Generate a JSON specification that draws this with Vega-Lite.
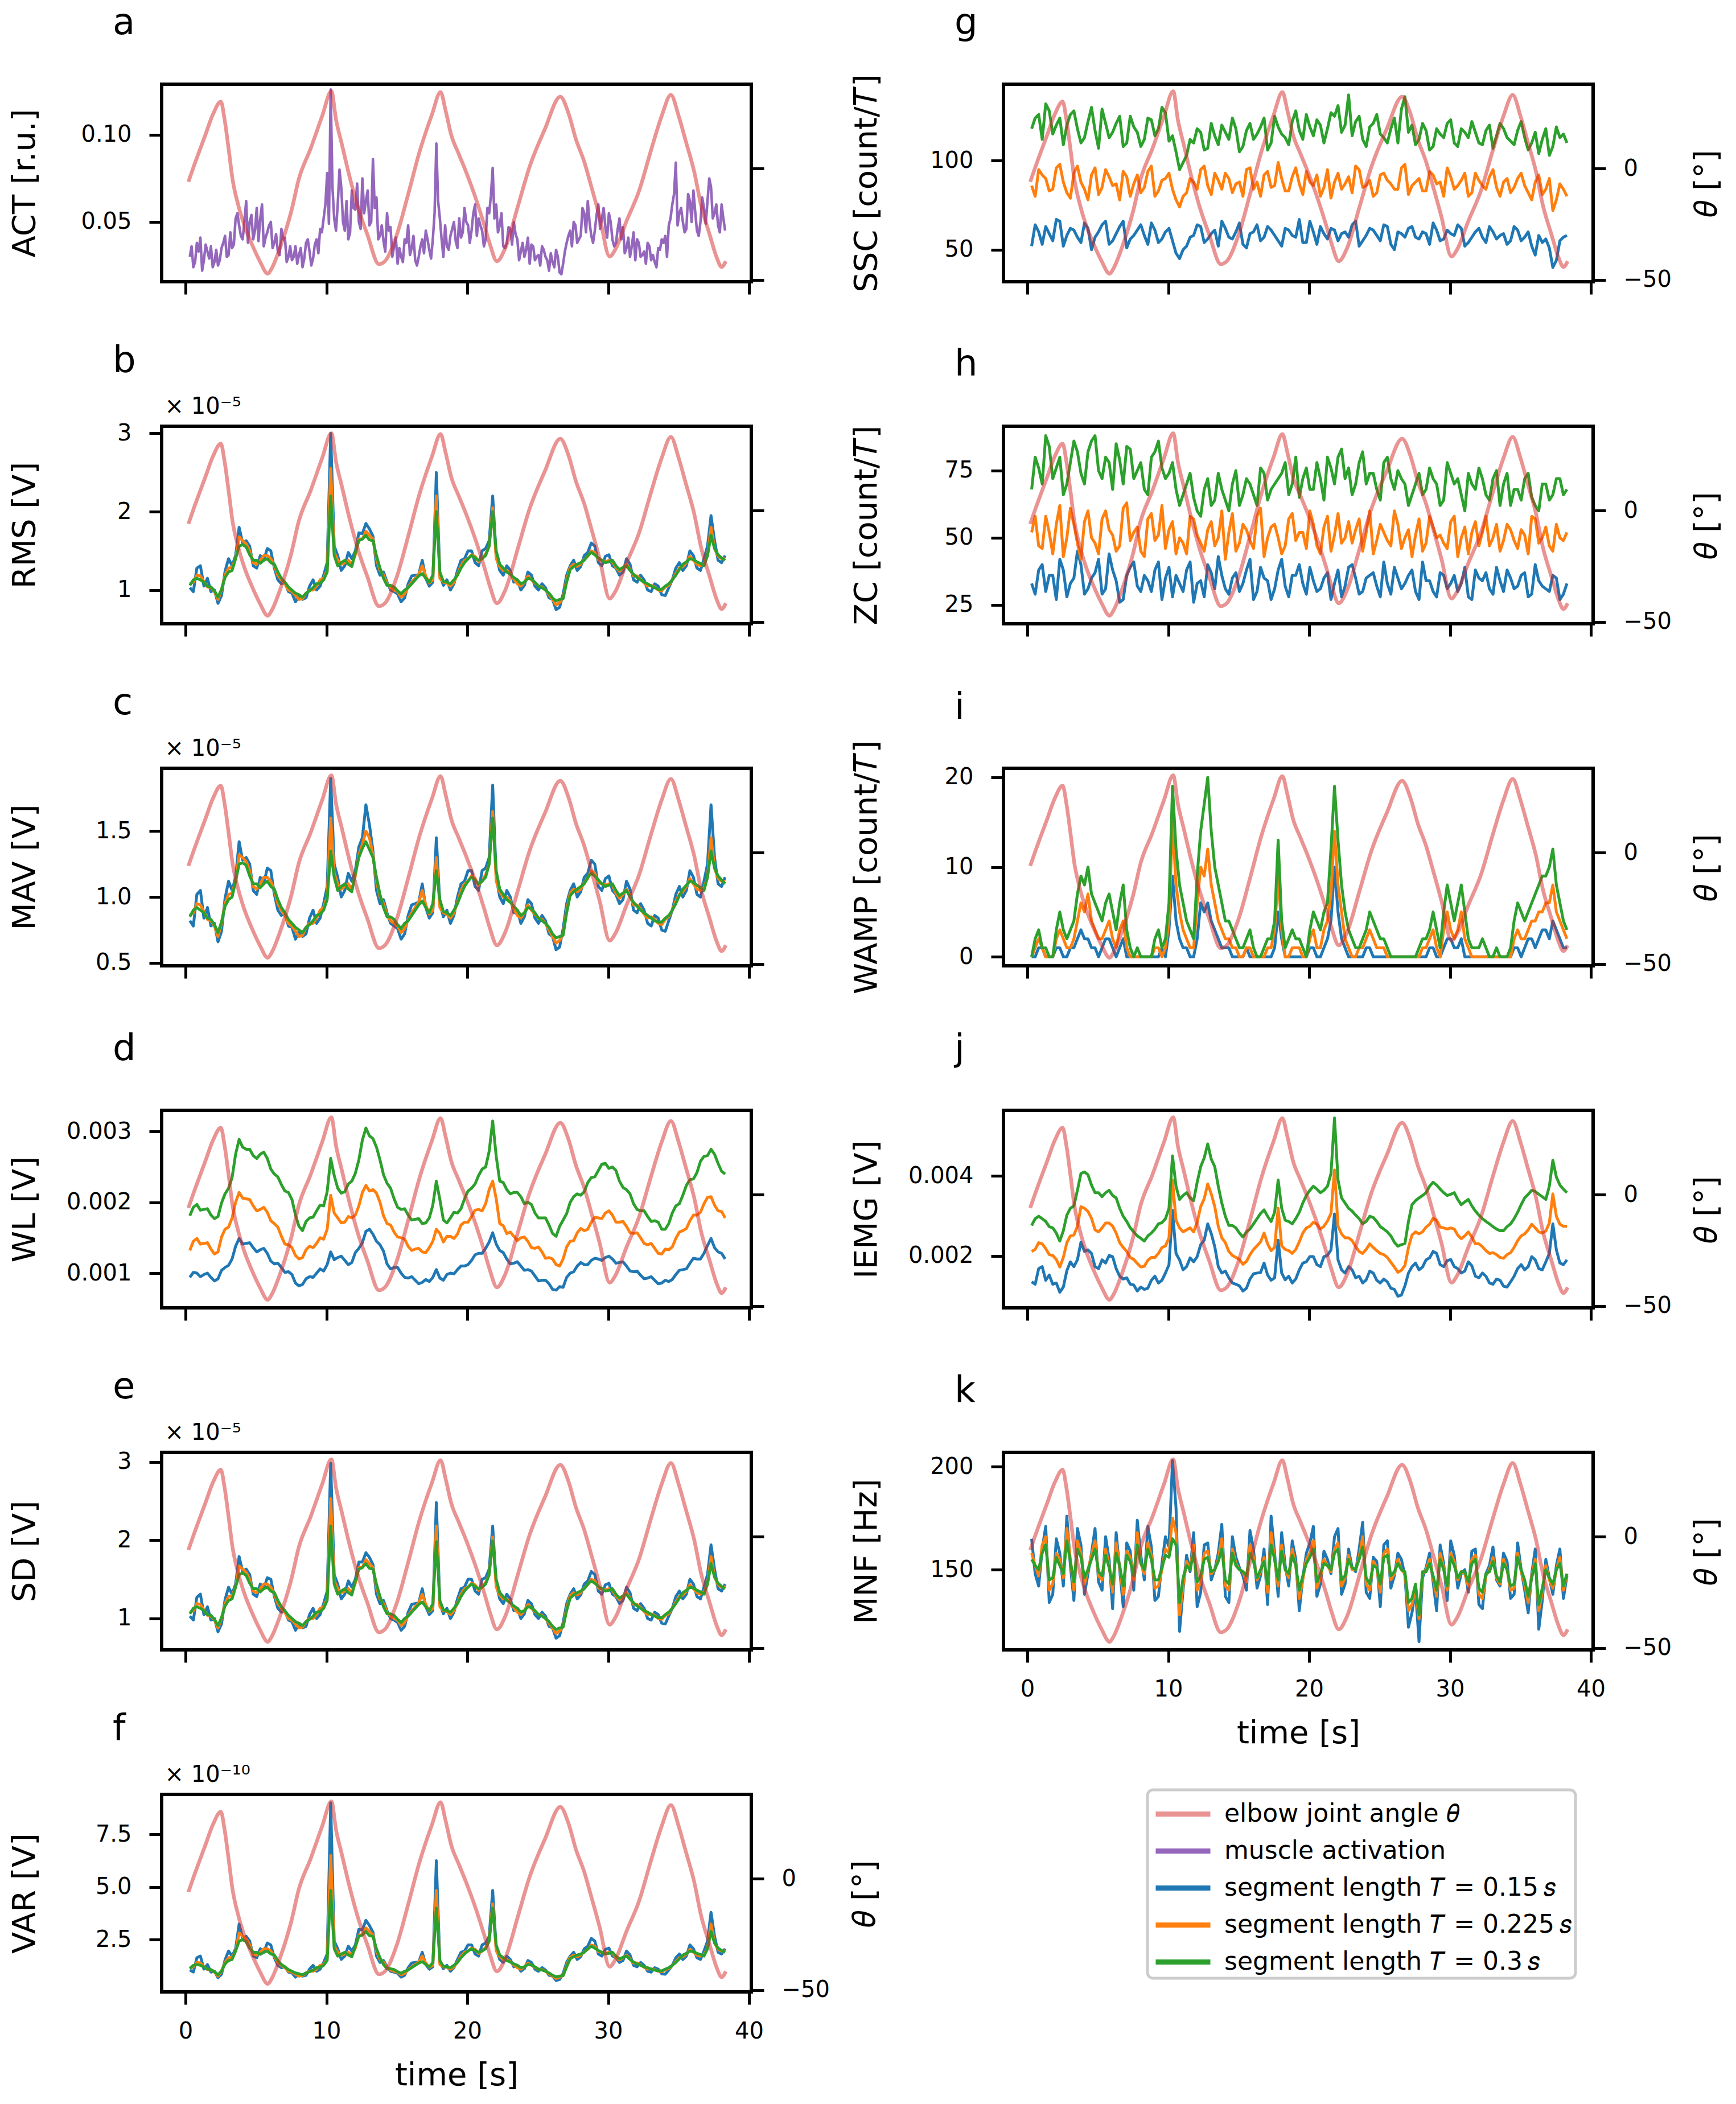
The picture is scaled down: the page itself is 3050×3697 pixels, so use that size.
{
  "$schema": "https://vega.github.io/schema/vega-lite/v6.json",
  "background": "white",
  "padding": {"left": 12, "top": 5, "right": 0, "bottom": 0},
  "datasets": {
    "angle": [
      {"t":0.2,"k":"angle","th":-6},{"t":0.55,"k":"angle","th":0.4},{"t":1.4,"k":"angle","th":15},{"t":1.95,"k":"angle","th":24.4},{"t":2.5,"k":"angle","th":30},{"t":2.77,"k":"angle","th":21.9},{"t":3.05,"k":"angle","th":9},{"t":3.33,"k":"angle","th":-4.7},{"t":3.75,"k":"angle","th":-16.7},{"t":4.16,"k":"angle","th":-25.3},{"t":4.7,"k":"angle","th":-33.9},{"t":5.27,"k":"angle","th":-41.6},{"t":5.83,"k":"angle","th":-47.2},{"t":6.1,"k":"angle","th":-45},{"t":6.66,"k":"angle","th":-36.4},{"t":7.5,"k":"angle","th":-19.3},{"t":8.04,"k":"angle","th":-4.7},{"t":8.88,"k":"angle","th":9},{"t":9.7,"k":"angle","th":23.6},{"t":10.35,"k":"angle","th":34.7},{"t":10.68,"k":"angle","th":21.9},{"t":11.1,"k":"angle","th":10.7},{"t":11.65,"k":"angle","th":-3.9},{"t":12.2,"k":"angle","th":-16.7},{"t":12.9,"k":"angle","th":-29.6},{"t":13.73,"k":"angle","th":-42.9},{"t":14.15,"k":"angle","th":-41.6},{"t":15,"k":"angle","th":-29.6},{"t":15.8,"k":"angle","th":-11.6},{"t":16.6,"k":"angle","th":7.3},{"t":17.5,"k":"angle","th":24.4},{"t":18.1,"k":"angle","th":34.3},{"t":18.45,"k":"angle","th":26.2},{"t":18.86,"k":"angle","th":15},{"t":19.4,"k":"angle","th":6.4},{"t":20,"k":"angle","th":-3},{"t":20.5,"k":"angle","th":-11.6},{"t":21.2,"k":"angle","th":-25.3},{"t":21.6,"k":"angle","th":-33.9},{"t":22.1,"k":"angle","th":-41.6},{"t":22.7,"k":"angle","th":-35.6},{"t":23.6,"k":"angle","th":-16.7},{"t":24.4,"k":"angle","th":0.4},{"t":25.5,"k":"angle","th":17.6},{"t":26.6,"k":"angle","th":32.2},{"t":27.2,"k":"angle","th":24.4},{"t":27.7,"k":"angle","th":13.3},{"t":28.3,"k":"angle","th":3},{"t":28.8,"k":"angle","th":-8.1},{"t":29.4,"k":"angle","th":-21.9},{"t":30.1,"k":"angle","th":-39.5},{"t":30.5,"k":"angle","th":-36.4},{"t":31.3,"k":"angle","th":-23.6},{"t":32.2,"k":"angle","th":-9.9},{"t":33,"k":"angle","th":7.3},{"t":33.8,"k":"angle","th":23.6},{"t":34.45,"k":"angle","th":33},{"t":35,"k":"angle","th":23.6},{"t":35.5,"k":"angle","th":12.4},{"t":36.1,"k":"angle","th":-1.3},{"t":36.6,"k":"angle","th":-16.7},{"t":37.2,"k":"angle","th":-29.6},{"t":37.7,"k":"angle","th":-39.9},{"t":38.05,"k":"angle","th":-44.2},{"t":38.35,"k":"angle","th":-41.6}
    ],
    "act": [
      {"t":0.3,"k":"act","act":0.030},{"t":0.8,"k":"act","act":0.038},{"t":1.3,"k":"act","act":0.028},{"t":1.8,"k":"act","act":0.036},{"t":2.3,"k":"act","act":0.025},{"t":2.8,"k":"act","act":0.042},{"t":3.3,"k":"act","act":0.035},{"t":3.8,"k":"act","act":0.048},{"t":4.3,"k":"act","act":0.062},{"t":4.8,"k":"act","act":0.040},{"t":5.3,"k":"act","act":0.052},{"t":5.8,"k":"act","act":0.044},{"t":6.3,"k":"act","act":0.038},{"t":6.8,"k":"act","act":0.046},{"t":7.3,"k":"act","act":0.030},{"t":7.8,"k":"act","act":0.036},{"t":8.3,"k":"act","act":0.024},{"t":8.8,"k":"act","act":0.033},{"t":9.3,"k":"act","act":0.040},{"t":9.8,"k":"act","act":0.052},{"t":10.3,"k":"act","act":0.126},{"t":10.8,"k":"act","act":0.060},{"t":11.3,"k":"act","act":0.045},{"t":11.8,"k":"act","act":0.068},{"t":12.3,"k":"act","act":0.050},{"t":12.8,"k":"act","act":0.062},{"t":13.3,"k":"act","act":0.086},{"t":13.8,"k":"act","act":0.042},{"t":14.3,"k":"act","act":0.055},{"t":14.8,"k":"act","act":0.036},{"t":15.3,"k":"act","act":0.030},{"t":15.8,"k":"act","act":0.048},{"t":16.3,"k":"act","act":0.028},{"t":16.8,"k":"act","act":0.040},{"t":17.3,"k":"act","act":0.034},{"t":17.8,"k":"act","act":0.095},{"t":18.3,"k":"act","act":0.030},{"t":18.8,"k":"act","act":0.042},{"t":19.3,"k":"act","act":0.035},{"t":19.8,"k":"act","act":0.058},{"t":20.3,"k":"act","act":0.045},{"t":20.8,"k":"act","act":0.052},{"t":21.3,"k":"act","act":0.040},{"t":21.8,"k":"act","act":0.081},{"t":22.3,"k":"act","act":0.048},{"t":22.8,"k":"act","act":0.038},{"t":23.3,"k":"act","act":0.050},{"t":23.8,"k":"act","act":0.033},{"t":24.3,"k":"act","act":0.041},{"t":24.8,"k":"act","act":0.028},{"t":25.3,"k":"act","act":0.036},{"t":25.8,"k":"act","act":0.022},{"t":26.3,"k":"act","act":0.034},{"t":26.8,"k":"act","act":0.026},{"t":27.3,"k":"act","act":0.045},{"t":27.8,"k":"act","act":0.038},{"t":28.3,"k":"act","act":0.055},{"t":28.8,"k":"act","act":0.042},{"t":29.3,"k":"act","act":0.060},{"t":29.8,"k":"act","act":0.047},{"t":30.3,"k":"act","act":0.040},{"t":30.8,"k":"act","act":0.052},{"t":31.3,"k":"act","act":0.035},{"t":31.8,"k":"act","act":0.044},{"t":32.3,"k":"act","act":0.030},{"t":32.8,"k":"act","act":0.038},{"t":33.3,"k":"act","act":0.027},{"t":33.8,"k":"act","act":0.040},{"t":34.3,"k":"act","act":0.048},{"t":34.8,"k":"act","act":0.084},{"t":35.3,"k":"act","act":0.050},{"t":35.8,"k":"act","act":0.062},{"t":36.3,"k":"act","act":0.045},{"t":36.8,"k":"act","act":0.058},{"t":37.3,"k":"act","act":0.070},{"t":37.8,"k":"act","act":0.048},{"t":38.3,"k":"act","act":0.045},
      {"t":0.55,"k":"act","act":0.024},{"t":1.05,"k":"act","act":0.041},{"t":1.55,"k":"act","act":0.033},{"t":2.05,"k":"act","act":0.027},{"t":2.55,"k":"act","act":0.035},{"t":3.05,"k":"act","act":0.031},{"t":3.55,"k":"act","act":0.052},{"t":4.05,"k":"act","act":0.040},{"t":4.55,"k":"act","act":0.050},{"t":5.05,"k":"act","act":0.058},{"t":5.55,"k":"act","act":0.036},{"t":6.05,"k":"act","act":0.050},{"t":6.55,"k":"act","act":0.033},{"t":7.05,"k":"act","act":0.041},{"t":7.55,"k":"act","act":0.028},{"t":8.05,"k":"act","act":0.031},{"t":8.55,"k":"act","act":0.038},{"t":9.05,"k":"act","act":0.029},{"t":9.55,"k":"act","act":0.046},{"t":10.05,"k":"act","act":0.078},{"t":10.55,"k":"act","act":0.052},{"t":11.05,"k":"act","act":0.070},{"t":11.55,"k":"act","act":0.040},{"t":12.05,"k":"act","act":0.057},{"t":12.55,"k":"act","act":0.075},{"t":13.05,"k":"act","act":0.048},{"t":13.55,"k":"act","act":0.064},{"t":14.05,"k":"act","act":0.039},{"t":14.55,"k":"act","act":0.047},{"t":15.05,"k":"act","act":0.026},{"t":15.55,"k":"act","act":0.040},{"t":16.05,"k":"act","act":0.035},{"t":16.55,"k":"act","act":0.030},{"t":17.05,"k":"act","act":0.045},{"t":17.55,"k":"act","act":0.040},{"t":18.05,"k":"act","act":0.052},{"t":18.55,"k":"act","act":0.036},{"t":19.05,"k":"act","act":0.050},{"t":19.55,"k":"act","act":0.041},{"t":20.05,"k":"act","act":0.048},{"t":20.55,"k":"act","act":0.060},{"t":21.05,"k":"act","act":0.045},{"t":21.55,"k":"act","act":0.055},{"t":22.05,"k":"act","act":0.060},{"t":22.55,"k":"act","act":0.036},{"t":23.05,"k":"act","act":0.046},{"t":23.55,"k":"act","act":0.040},{"t":24.05,"k":"act","act":0.030},{"t":24.55,"k":"act","act":0.037},{"t":25.05,"k":"act","act":0.031},{"t":25.55,"k":"act","act":0.030},{"t":26.05,"k":"act","act":0.027},{"t":26.55,"k":"act","act":0.021},{"t":27.05,"k":"act","act":0.038},{"t":27.55,"k":"act","act":0.050},{"t":28.05,"k":"act","act":0.042},{"t":28.55,"k":"act","act":0.062},{"t":29.05,"k":"act","act":0.045},{"t":29.55,"k":"act","act":0.052},{"t":30.05,"k":"act","act":0.055},{"t":30.55,"k":"act","act":0.038},{"t":31.05,"k":"act","act":0.047},{"t":31.55,"k":"act","act":0.030},{"t":32.05,"k":"act","act":0.040},{"t":32.55,"k":"act","act":0.033},{"t":33.05,"k":"act","act":0.028},{"t":33.55,"k":"act","act":0.035},{"t":34.05,"k":"act","act":0.042},{"t":34.55,"k":"act","act":0.060},{"t":35.05,"k":"act","act":0.055},{"t":35.55,"k":"act","act":0.046},{"t":36.05,"k":"act","act":0.068},{"t":36.55,"k":"act","act":0.050},{"t":37.05,"k":"act","act":0.062},{"t":37.55,"k":"act","act":0.055},{"t":38.05,"k":"act","act":0.060},
      {"t":0.425,"k":"act","act":0.036},{"t":0.675,"k":"act","act":0.027},{"t":0.925,"k":"act","act":0.033},{"t":1.175,"k":"act","act":0.022},{"t":1.425,"k":"act","act":0.037},{"t":1.675,"k":"act","act":0.029},{"t":1.925,"k":"act","act":0.024},{"t":2.175,"k":"act","act":0.034},{"t":2.425,"k":"act","act":0.028},{"t":2.675,"k":"act","act":0.038},{"t":2.925,"k":"act","act":0.030},{"t":3.175,"k":"act","act":0.044},{"t":3.425,"k":"act","act":0.037},{"t":3.675,"k":"act","act":0.055},{"t":3.925,"k":"act","act":0.042},{"t":4.175,"k":"act","act":0.050},{"t":4.425,"k":"act","act":0.038},{"t":4.675,"k":"act","act":0.054},{"t":4.925,"k":"act","act":0.045},{"t":5.175,"k":"act","act":0.039},{"t":5.425,"k":"act","act":0.060},{"t":5.675,"k":"act","act":0.041},{"t":5.925,"k":"act","act":0.048},{"t":6.175,"k":"act","act":0.035},{"t":6.425,"k":"act","act":0.043},{"t":6.675,"k":"act","act":0.031},{"t":6.925,"k":"act","act":0.040},{"t":7.175,"k":"act","act":0.027},{"t":7.425,"k":"act","act":0.036},{"t":7.675,"k":"act","act":0.030},{"t":7.925,"k":"act","act":0.026},{"t":8.175,"k":"act","act":0.035},{"t":8.425,"k":"act","act":0.029},{"t":8.675,"k":"act","act":0.040},{"t":8.925,"k":"act","act":0.025},{"t":9.175,"k":"act","act":0.037},{"t":9.425,"k":"act","act":0.032},{"t":9.675,"k":"act","act":0.044},{"t":9.925,"k":"act","act":0.060},{"t":10.175,"k":"act","act":0.049},{"t":10.425,"k":"act","act":0.070},{"t":10.675,"k":"act","act":0.045},{"t":10.925,"k":"act","act":0.080},{"t":11.175,"k":"act","act":0.050},{"t":11.425,"k":"act","act":0.062},{"t":11.675,"k":"act","act":0.044},{"t":11.925,"k":"act","act":0.058},{"t":12.175,"k":"act","act":0.072},{"t":12.425,"k":"act","act":0.046},{"t":12.675,"k":"act","act":0.055},{"t":12.925,"k":"act","act":0.068},{"t":13.175,"k":"act","act":0.050},{"t":13.425,"k":"act","act":0.058},{"t":13.675,"k":"act","act":0.040},{"t":13.925,"k":"act","act":0.048},{"t":14.175,"k":"act","act":0.033},{"t":14.425,"k":"act","act":0.045},{"t":14.675,"k":"act","act":0.030},{"t":14.925,"k":"act","act":0.041},{"t":15.175,"k":"act","act":0.035},{"t":15.425,"k":"act","act":0.027},{"t":15.675,"k":"act","act":0.038},{"t":15.925,"k":"act","act":0.031},{"t":16.175,"k":"act","act":0.042},{"t":16.425,"k":"act","act":0.025},{"t":16.675,"k":"act","act":0.036},{"t":16.925,"k":"act","act":0.032},{"t":17.175,"k":"act","act":0.040},{"t":17.425,"k":"act","act":0.029},{"t":17.675,"k":"act","act":0.055},{"t":17.925,"k":"act","act":0.062},{"t":18.175,"k":"act","act":0.040},{"t":18.425,"k":"act","act":0.048},{"t":18.675,"k":"act","act":0.034},{"t":18.925,"k":"act","act":0.046},{"t":19.175,"k":"act","act":0.039},{"t":19.425,"k":"act","act":0.052},{"t":19.675,"k":"act","act":0.044},{"t":19.925,"k":"act","act":0.050},{"t":20.175,"k":"act","act":0.038},{"t":20.425,"k":"act","act":0.055},{"t":20.675,"k":"act","act":0.042},{"t":20.925,"k":"act","act":0.048},{"t":21.175,"k":"act","act":0.036},{"t":21.425,"k":"act","act":0.058},{"t":21.675,"k":"act","act":0.065},{"t":21.925,"k":"act","act":0.052},{"t":22.175,"k":"act","act":0.044},{"t":22.425,"k":"act","act":0.055},{"t":22.675,"k":"act","act":0.035},{"t":22.925,"k":"act","act":0.047},{"t":23.175,"k":"act","act":0.037},{"t":23.425,"k":"act","act":0.043},{"t":23.675,"k":"act","act":0.028},{"t":23.925,"k":"act","act":0.038},{"t":24.175,"k":"act","act":0.034},{"t":24.425,"k":"act","act":0.026},{"t":24.675,"k":"act","act":0.036},{"t":24.925,"k":"act","act":0.030},{"t":25.175,"k":"act","act":0.025},{"t":25.425,"k":"act","act":0.034},{"t":25.675,"k":"act","act":0.028},{"t":25.925,"k":"act","act":0.032},{"t":26.175,"k":"act","act":0.024},{"t":26.425,"k":"act","act":0.030},{"t":26.675,"k":"act","act":0.020},{"t":26.925,"k":"act","act":0.033},{"t":27.175,"k":"act","act":0.042},{"t":27.425,"k":"act","act":0.036},{"t":27.675,"k":"act","act":0.048},{"t":27.925,"k":"act","act":0.040},{"t":28.175,"k":"act","act":0.058},{"t":28.425,"k":"act","act":0.044},{"t":28.675,"k":"act","act":0.050},{"t":28.925,"k":"act","act":0.038},{"t":29.175,"k":"act","act":0.054},{"t":29.425,"k":"act","act":0.046},{"t":29.675,"k":"act","act":0.058},{"t":29.925,"k":"act","act":0.041},{"t":30.175,"k":"act","act":0.050},{"t":30.425,"k":"act","act":0.036},{"t":30.675,"k":"act","act":0.046},{"t":30.925,"k":"act","act":0.040},{"t":31.175,"k":"act","act":0.032},{"t":31.425,"k":"act","act":0.041},{"t":31.675,"k":"act","act":0.036},{"t":31.925,"k":"act","act":0.028},{"t":32.175,"k":"act","act":0.038},{"t":32.425,"k":"act","act":0.031},{"t":32.675,"k":"act","act":0.026},{"t":32.925,"k":"act","act":0.036},{"t":33.175,"k":"act","act":0.031},{"t":33.425,"k":"act","act":0.024},{"t":33.675,"k":"act","act":0.034},{"t":33.925,"k":"act","act":0.038},{"t":34.175,"k":"act","act":0.030},{"t":34.425,"k":"act","act":0.052},{"t":34.675,"k":"act","act":0.066},{"t":34.925,"k":"act","act":0.048},{"t":35.175,"k":"act","act":0.058},{"t":35.425,"k":"act","act":0.044},{"t":35.675,"k":"act","act":0.066},{"t":35.925,"k":"act","act":0.050},{"t":36.175,"k":"act","act":0.056},{"t":36.425,"k":"act","act":0.042},{"t":36.675,"k":"act","act":0.064},{"t":36.925,"k":"act","act":0.049},{"t":37.175,"k":"act","act":0.075},{"t":37.425,"k":"act","act":0.052},{"t":37.675,"k":"act","act":0.060},{"t":37.925,"k":"act","act":0.044},{"t":38.175,"k":"act","act":0.052}
    ],
    "emg": [
      {"t":0.3,"k":"0.15","mav":0.82,"rms":1.03,"sd":1.03,"var":1.06,"wl":0.00094,"iemg":0.00135,"ssc":52,"zc":33,"wamp":0,"mnf":165},
      {"t":0.8,"k":"0.15","mav":1.02,"rms":1.28,"sd":1.27,"var":1.64,"wl":0.001,"iemg":0.00168,"ssc":60,"zc":38,"wamp":1,"mnf":142},
      {"t":1.3,"k":"0.15","mav":0.84,"rms":1.05,"sd":1.05,"var":1.1,"wl":0.00098,"iemg":0.00139,"ssc":63,"zc":30,"wamp":0,"mnf":171},
      {"t":1.8,"k":"0.15","mav":0.78,"rms":0.98,"sd":0.98,"var":0.96,"wl":0.00094,"iemg":0.00129,"ssc":55,"zc":36,"wamp":0,"mnf":138},
      {"t":2.3,"k":"0.15","mav":0.66,"rms":0.83,"sd":0.83,"var":0.69,"wl":0.00092,"iemg":0.00109,"ssc":66,"zc":42,"wamp":1,"mnf":158},
      {"t":2.8,"k":"0.15","mav":0.99,"rms":1.24,"sd":1.24,"var":1.54,"wl":0.00108,"iemg":0.00163,"ssc":58,"zc":28,"wamp":0,"mnf":176},
      {"t":3.3,"k":"0.15","mav":1.05,"rms":1.31,"sd":1.31,"var":1.72,"wl":0.0012,"iemg":0.00173,"ssc":61,"zc":35,"wamp":1,"mnf":135},
      {"t":3.8,"k":"0.15","mav":1.42,"rms":1.8,"sd":1.79,"var":3.24,"wl":0.00149,"iemg":0.00234,"ssc":54,"zc":40,"wamp":3,"mnf":162},
      {"t":4.3,"k":"0.15","mav":1.3,"rms":1.63,"sd":1.63,"var":2.66,"wl":0.00142,"iemg":0.00215,"ssc":62,"zc":31,"wamp":2,"mnf":148},
      {"t":4.8,"k":"0.15","mav":1.05,"rms":1.31,"sd":1.31,"var":1.72,"wl":0.00136,"iemg":0.00173,"ssc":57,"zc":37,"wamp":1,"mnf":170},
      {"t":5.3,"k":"0.15","mav":1.15,"rms":1.44,"sd":1.44,"var":2.07,"wl":0.00133,"iemg":0.0019,"ssc":64,"zc":29,"wamp":1,"mnf":140},
      {"t":5.8,"k":"0.15","mav":1.22,"rms":1.53,"sd":1.52,"var":2.34,"wl":0.00128,"iemg":0.00201,"ssc":53,"zc":44,"wamp":2,"mnf":155},
      {"t":6.3,"k":"0.15","mav":1.02,"rms":1.28,"sd":1.28,"var":1.64,"wl":0.00113,"iemg":0.00168,"ssc":59,"zc":34,"wamp":0,"mnf":168},
      {"t":6.8,"k":"0.15","mav":0.86,"rms":1.08,"sd":1.08,"var":1.17,"wl":0.00108,"iemg":0.00142,"ssc":66,"zc":27,"wamp":2,"mnf":132},
      {"t":7.3,"k":"0.15","mav":0.78,"rms":0.98,"sd":0.98,"var":0.96,"wl":0.00102,"iemg":0.00129,"ssc":56,"zc":39,"wamp":0,"mnf":159},
      {"t":7.8,"k":"0.15","mav":0.68,"rms":0.85,"sd":0.85,"var":0.72,"wl":0.00086,"iemg":0.00112,"ssc":61,"zc":32,"wamp":0,"mnf":174},
      {"t":8.3,"k":"0.15","mav":0.7,"rms":0.88,"sd":0.88,"var":0.77,"wl":0.00084,"iemg":0.00116,"ssc":58,"zc":36,"wamp":0,"mnf":145},
      {"t":8.8,"k":"0.15","mav":0.84,"rms":1.05,"sd":1.05,"var":1.1,"wl":0.00095,"iemg":0.00139,"ssc":65,"zc":30,"wamp":0,"mnf":161},
      {"t":9.3,"k":"0.15","mav":0.8,"rms":1.0,"sd":1.0,"var":1.0,"wl":0.001,"iemg":0.00132,"ssc":54,"zc":41,"wamp":0,"mnf":137},
      {"t":9.8,"k":"0.15","mav":0.95,"rms":1.19,"sd":1.19,"var":1.42,"wl":0.00103,"iemg":0.00157,"ssc":60,"zc":35,"wamp":0,"mnf":166},
      {"t":10.3,"k":"0.15","mav":1.9,"rms":3.0,"sd":2.98,"var":9.0,"wl":0.0013,"iemg":0.00314,"ssc":55,"zc":28,"wamp":9,"mnf":203},
      {"t":10.8,"k":"0.15","mav":1.15,"rms":1.44,"sd":1.44,"var":2.07,"wl":0.00122,"iemg":0.0019,"ssc":45,"zc":33,"wamp":2,"mnf":120},
      {"t":11.3,"k":"0.15","mav":1.05,"rms":1.31,"sd":1.31,"var":1.72,"wl":0.00118,"iemg":0.00173,"ssc":52,"zc":38,"wamp":1,"mnf":157},
      {"t":11.8,"k":"0.15","mav":1.12,"rms":1.4,"sd":1.4,"var":1.96,"wl":0.00115,"iemg":0.00185,"ssc":58,"zc":26,"wamp":0,"mnf":168},
      {"t":12.3,"k":"0.15","mav":1.38,"rms":1.73,"sd":1.72,"var":2.99,"wl":0.00135,"iemg":0.00228,"ssc":63,"zc":34,"wamp":6,"mnf":139},
      {"t":12.8,"k":"0.15","mav":1.7,"rms":1.85,"sd":1.84,"var":3.42,"wl":0.00159,"iemg":0.0028,"ssc":56,"zc":40,"wamp":6,"mnf":163},
      {"t":13.3,"k":"0.15","mav":1.35,"rms":1.69,"sd":1.69,"var":2.86,"wl":0.00155,"iemg":0.00223,"ssc":61,"zc":31,"wamp":3,"mnf":150},
      {"t":13.8,"k":"0.15","mav":0.95,"rms":1.19,"sd":1.19,"var":1.42,"wl":0.0014,"iemg":0.00157,"ssc":66,"zc":36,"wamp":1,"mnf":172},
      {"t":14.3,"k":"0.15","mav":0.88,"rms":1.1,"sd":1.1,"var":1.21,"wl":0.00113,"iemg":0.00145,"ssc":57,"zc":29,"wamp":1,"mnf":134},
      {"t":14.8,"k":"0.15","mav":0.78,"rms":0.98,"sd":0.98,"var":0.96,"wl":0.00108,"iemg":0.00129,"ssc":60,"zc":37,"wamp":0,"mnf":156},
      {"t":15.3,"k":"0.15","mav":0.68,"rms":0.85,"sd":0.85,"var":0.72,"wl":0.001,"iemg":0.00112,"ssc":53,"zc":33,"wamp":0,"mnf":147},
      {"t":15.8,"k":"0.15","mav":0.86,"rms":1.08,"sd":1.08,"var":1.17,"wl":0.00093,"iemg":0.00142,"ssc":59,"zc":42,"wamp":0,"mnf":169},
      {"t":16.3,"k":"0.15","mav":0.95,"rms":1.19,"sd":1.19,"var":1.42,"wl":0.0009,"iemg":0.00157,"ssc":64,"zc":30,"wamp":0,"mnf":141},
      {"t":16.8,"k":"0.15","mav":1.1,"rms":1.38,"sd":1.38,"var":1.9,"wl":0.00087,"iemg":0.00182,"ssc":57,"zc":35,"wamp":0,"mnf":160},
      {"t":17.3,"k":"0.15","mav":0.84,"rms":1.05,"sd":1.05,"var":1.1,"wl":0.00088,"iemg":0.00139,"ssc":61,"zc":27,"wamp":0,"mnf":176},
      {"t":17.8,"k":"0.15","mav":1.45,"rms":2.5,"sd":2.48,"var":6.25,"wl":0.00105,"iemg":0.00239,"ssc":55,"zc":38,"wamp":5,"mnf":137},
      {"t":18.3,"k":"0.15","mav":0.85,"rms":1.06,"sd":1.06,"var":1.12,"wl":0.0009,"iemg":0.0014,"ssc":62,"zc":32,"wamp":0,"mnf":152},
      {"t":18.8,"k":"0.15","mav":0.8,"rms":1.0,"sd":1.0,"var":1.0,"wl":0.001,"iemg":0.00132,"ssc":58,"zc":36,"wamp":0,"mnf":164},
      {"t":19.3,"k":"0.15","mav":1.0,"rms":1.25,"sd":1.25,"var":1.56,"wl":0.00105,"iemg":0.00165,"ssc":67,"zc":40,"wamp":0,"mnf":130},
      {"t":19.8,"k":"0.15","mav":1.12,"rms":1.4,"sd":1.4,"var":1.96,"wl":0.0011,"iemg":0.00185,"ssc":54,"zc":29,"wamp":0,"mnf":158},
      {"t":20.3,"k":"0.15","mav":1.2,"rms":1.5,"sd":1.5,"var":2.25,"wl":0.00118,"iemg":0.00198,"ssc":60,"zc":34,"wamp":1,"mnf":171},
      {"t":20.8,"k":"0.15","mav":1.05,"rms":1.31,"sd":1.31,"var":1.72,"wl":0.00128,"iemg":0.00173,"ssc":63,"zc":31,"wamp":0,"mnf":143},
      {"t":21.3,"k":"0.15","mav":1.22,"rms":1.53,"sd":1.52,"var":2.34,"wl":0.00135,"iemg":0.00201,"ssc":56,"zc":37,"wamp":2,"mnf":155},
      {"t":21.8,"k":"0.15","mav":1.85,"rms":2.2,"sd":2.18,"var":4.84,"wl":0.00157,"iemg":0.00305,"ssc":61,"zc":33,"wamp":10,"mnf":166},
      {"t":22.3,"k":"0.15","mav":1.0,"rms":1.25,"sd":1.25,"var":1.56,"wl":0.00132,"iemg":0.00165,"ssc":59,"zc":28,"wamp":2,"mnf":138},
      {"t":22.8,"k":"0.15","mav":1.05,"rms":1.31,"sd":1.31,"var":1.72,"wl":0.0012,"iemg":0.00173,"ssc":57,"zc":39,"wamp":0,"mnf":160},
      {"t":23.3,"k":"0.15","mav":0.88,"rms":1.1,"sd":1.1,"var":1.21,"wl":0.00114,"iemg":0.00145,"ssc":66,"zc":35,"wamp":0,"mnf":149},
      {"t":23.8,"k":"0.15","mav":0.8,"rms":1.0,"sd":1.0,"var":1.0,"wl":0.0011,"iemg":0.00132,"ssc":55,"zc":30,"wamp":0,"mnf":173},
      {"t":24.3,"k":"0.15","mav":0.98,"rms":1.23,"sd":1.23,"var":1.51,"wl":0.00105,"iemg":0.00162,"ssc":62,"zc":36,"wamp":1,"mnf":136},
      {"t":24.8,"k":"0.15","mav":0.84,"rms":1.05,"sd":1.05,"var":1.1,"wl":0.00096,"iemg":0.00139,"ssc":58,"zc":32,"wamp":0,"mnf":154},
      {"t":25.3,"k":"0.15","mav":0.86,"rms":1.08,"sd":1.08,"var":1.17,"wl":0.0009,"iemg":0.00142,"ssc":64,"zc":41,"wamp":0,"mnf":162},
      {"t":25.8,"k":"0.15","mav":0.72,"rms":0.9,"sd":0.9,"var":0.81,"wl":0.00085,"iemg":0.00119,"ssc":53,"zc":29,"wamp":0,"mnf":141},
      {"t":26.3,"k":"0.15","mav":0.6,"rms":0.75,"sd":0.75,"var":0.56,"wl":0.00076,"iemg":0.00099,"ssc":60,"zc":35,"wamp":0,"mnf":158},
      {"t":26.8,"k":"0.15","mav":0.76,"rms":0.95,"sd":0.95,"var":0.9,"wl":0.0008,"iemg":0.00125,"ssc":57,"zc":33,"wamp":0,"mnf":147},
      {"t":27.3,"k":"0.15","mav":1.05,"rms":1.31,"sd":1.31,"var":1.72,"wl":0.001,"iemg":0.00173,"ssc":63,"zc":38,"wamp":0,"mnf":129},
      {"t":27.8,"k":"0.15","mav":1.0,"rms":1.25,"sd":1.25,"var":1.56,"wl":0.0011,"iemg":0.00165,"ssc":56,"zc":27,"wamp":0,"mnf":115},
      {"t":28.3,"k":"0.15","mav":1.15,"rms":1.44,"sd":1.44,"var":2.07,"wl":0.00112,"iemg":0.0019,"ssc":59,"zc":34,"wamp":0,"mnf":151},
      {"t":28.8,"k":"0.15","mav":1.28,"rms":1.6,"sd":1.6,"var":2.56,"wl":0.00118,"iemg":0.00211,"ssc":65,"zc":30,"wamp":1,"mnf":144},
      {"t":29.3,"k":"0.15","mav":1.08,"rms":1.35,"sd":1.35,"var":1.82,"wl":0.0012,"iemg":0.00178,"ssc":55,"zc":37,"wamp":0,"mnf":162},
      {"t":29.8,"k":"0.15","mav":1.14,"rms":1.43,"sd":1.43,"var":2.04,"wl":0.00122,"iemg":0.00188,"ssc":61,"zc":31,"wamp":2,"mnf":135},
      {"t":30.3,"k":"0.15","mav":1.05,"rms":1.31,"sd":1.31,"var":1.72,"wl":0.0012,"iemg":0.00173,"ssc":58,"zc":36,"wamp":1,"mnf":157},
      {"t":30.8,"k":"0.15","mav":0.95,"rms":1.19,"sd":1.19,"var":1.42,"wl":0.00115,"iemg":0.00157,"ssc":62,"zc":33,"wamp":2,"mnf":148},
      {"t":31.3,"k":"0.15","mav":1.12,"rms":1.4,"sd":1.4,"var":1.96,"wl":0.0011,"iemg":0.00185,"ssc":54,"zc":28,"wamp":0,"mnf":139},
      {"t":31.8,"k":"0.15","mav":0.9,"rms":1.13,"sd":1.13,"var":1.28,"wl":0.00102,"iemg":0.00149,"ssc":60,"zc":38,"wamp":0,"mnf":160},
      {"t":32.3,"k":"0.15","mav":0.95,"rms":1.19,"sd":1.19,"var":1.42,"wl":0.00097,"iemg":0.00157,"ssc":57,"zc":34,"wamp":0,"mnf":131},
      {"t":32.8,"k":"0.15","mav":0.8,"rms":1.0,"sd":1.0,"var":1.0,"wl":0.00093,"iemg":0.00132,"ssc":63,"zc":31,"wamp":0,"mnf":152},
      {"t":33.3,"k":"0.15","mav":0.86,"rms":1.08,"sd":1.08,"var":1.17,"wl":0.0009,"iemg":0.00142,"ssc":56,"zc":39,"wamp":0,"mnf":145},
      {"t":33.8,"k":"0.15","mav":0.75,"rms":0.94,"sd":0.94,"var":0.88,"wl":0.00086,"iemg":0.00124,"ssc":59,"zc":30,"wamp":0,"mnf":158},
      {"t":34.3,"k":"0.15","mav":0.82,"rms":1.03,"sd":1.03,"var":1.06,"wl":0.00088,"iemg":0.00135,"ssc":55,"zc":35,"wamp":0,"mnf":136},
      {"t":34.8,"k":"0.15","mav":1.02,"rms":1.28,"sd":1.28,"var":1.64,"wl":0.00098,"iemg":0.00168,"ssc":61,"zc":32,"wamp":1,"mnf":163},
      {"t":35.3,"k":"0.15","mav":1.0,"rms":1.25,"sd":1.25,"var":1.56,"wl":0.00105,"iemg":0.00165,"ssc":57,"zc":37,"wamp":1,"mnf":140},
      {"t":35.8,"k":"0.15","mav":1.2,"rms":1.5,"sd":1.5,"var":2.25,"wl":0.00114,"iemg":0.00198,"ssc":52,"zc":29,"wamp":2,"mnf":148},
      {"t":36.3,"k":"0.15","mav":1.02,"rms":1.28,"sd":1.28,"var":1.64,"wl":0.0012,"iemg":0.00168,"ssc":58,"zc":34,"wamp":2,"mnf":121},
      {"t":36.8,"k":"0.15","mav":1.12,"rms":1.4,"sd":1.4,"var":1.96,"wl":0.00128,"iemg":0.00185,"ssc":56,"zc":31,"wamp":3,"mnf":155},
      {"t":37.3,"k":"0.15","mav":1.7,"rms":1.95,"sd":1.94,"var":3.8,"wl":0.00149,"iemg":0.0028,"ssc":40,"zc":36,"wamp":4,"mnf":138},
      {"t":37.8,"k":"0.15","mav":1.1,"rms":1.38,"sd":1.38,"var":1.9,"wl":0.0013,"iemg":0.00182,"ssc":55,"zc":27,"wamp":2,"mnf":160},
      {"t":38.3,"k":"0.15","mav":1.15,"rms":1.44,"sd":1.44,"var":2.07,"wl":0.0012,"iemg":0.0019,"ssc":58,"zc":33,"wamp":1,"mnf":147},

      {"t":0.3,"k":"0.225","mav":0.86,"rms":1.08,"sd":1.08,"var":1.17,"wl":0.00132,"iemg":0.00211,"ssc":86,"zc":52,"wamp":0,"mnf":158},
      {"t":0.8,"k":"0.225","mav":0.95,"rms":1.19,"sd":1.19,"var":1.42,"wl":0.00149,"iemg":0.00233,"ssc":95,"zc":47,"wamp":2,"mnf":147},
      {"t":1.3,"k":"0.225","mav":0.89,"rms":1.11,"sd":1.11,"var":1.23,"wl":0.00142,"iemg":0.00218,"ssc":90,"zc":58,"wamp":0,"mnf":166},
      {"t":1.8,"k":"0.225","mav":0.82,"rms":1.03,"sd":1.03,"var":1.06,"wl":0.00134,"iemg":0.00201,"ssc":84,"zc":44,"wamp":0,"mnf":143},
      {"t":2.3,"k":"0.225","mav":0.7,"rms":0.88,"sd":0.88,"var":0.77,"wl":0.0013,"iemg":0.00172,"ssc":98,"zc":62,"wamp":3,"mnf":155},
      {"t":2.8,"k":"0.225","mav":0.95,"rms":1.19,"sd":1.19,"var":1.42,"wl":0.00162,"iemg":0.00233,"ssc":82,"zc":50,"wamp":1,"mnf":170},
      {"t":3.3,"k":"0.225","mav":1.03,"rms":1.29,"sd":1.29,"var":1.66,"wl":0.00178,"iemg":0.00252,"ssc":93,"zc":55,"wamp":2,"mnf":140},
      {"t":3.8,"k":"0.225","mav":1.32,"rms":1.68,"sd":1.67,"var":2.82,"wl":0.00214,"iemg":0.00323,"ssc":88,"zc":42,"wamp":6,"mnf":158},
      {"t":4.3,"k":"0.225","mav":1.27,"rms":1.59,"sd":1.59,"var":2.53,"wl":0.00205,"iemg":0.00311,"ssc":78,"zc":60,"wamp":7,"mnf":150},
      {"t":4.8,"k":"0.225","mav":1.08,"rms":1.35,"sd":1.35,"var":1.82,"wl":0.00195,"iemg":0.00265,"ssc":96,"zc":48,"wamp":3,"mnf":164},
      {"t":5.3,"k":"0.225","mav":1.1,"rms":1.38,"sd":1.38,"var":1.9,"wl":0.0019,"iemg":0.0027,"ssc":85,"zc":57,"wamp":2,"mnf":145},
      {"t":5.8,"k":"0.225","mav":1.15,"rms":1.44,"sd":1.44,"var":2.07,"wl":0.00186,"iemg":0.00282,"ssc":91,"zc":53,"wamp":4,"mnf":152},
      {"t":6.3,"k":"0.225","mav":1.05,"rms":1.31,"sd":1.31,"var":1.72,"wl":0.0017,"iemg":0.00257,"ssc":87,"zc":45,"wamp":1,"mnf":163},
      {"t":6.8,"k":"0.225","mav":0.9,"rms":1.13,"sd":1.13,"var":1.28,"wl":0.00152,"iemg":0.00221,"ssc":94,"zc":61,"wamp":4,"mnf":138},
      {"t":7.3,"k":"0.225","mav":0.8,"rms":1.0,"sd":1.0,"var":1.0,"wl":0.0014,"iemg":0.00196,"ssc":80,"zc":49,"wamp":0,"mnf":156},
      {"t":7.8,"k":"0.225","mav":0.74,"rms":0.93,"sd":0.93,"var":0.86,"wl":0.00125,"iemg":0.00181,"ssc":92,"zc":54,"wamp":0,"mnf":168},
      {"t":8.3,"k":"0.225","mav":0.71,"rms":0.89,"sd":0.89,"var":0.79,"wl":0.00122,"iemg":0.00174,"ssc":85,"zc":43,"wamp":0,"mnf":148},
      {"t":8.8,"k":"0.225","mav":0.8,"rms":1.0,"sd":1.0,"var":1.0,"wl":0.00138,"iemg":0.00196,"ssc":97,"zc":59,"wamp":0,"mnf":157},
      {"t":9.3,"k":"0.225","mav":0.84,"rms":1.05,"sd":1.05,"var":1.1,"wl":0.00142,"iemg":0.00206,"ssc":83,"zc":51,"wamp":1,"mnf":142},
      {"t":9.8,"k":"0.225","mav":0.92,"rms":1.15,"sd":1.15,"var":1.32,"wl":0.00148,"iemg":0.00225,"ssc":90,"zc":46,"wamp":1,"mnf":160},
      {"t":10.3,"k":"0.225","mav":1.6,"rms":2.55,"sd":2.53,"var":6.5,"wl":0.0021,"iemg":0.0039,"ssc":84,"zc":56,"wamp":15,"mnf":175},
      {"t":10.8,"k":"0.225","mav":1.1,"rms":1.38,"sd":1.38,"var":1.9,"wl":0.00178,"iemg":0.0027,"ssc":74,"zc":50,"wamp":5,"mnf":128},
      {"t":11.3,"k":"0.225","mav":1.08,"rms":1.35,"sd":1.35,"var":1.82,"wl":0.00172,"iemg":0.00265,"ssc":82,"zc":44,"wamp":2,"mnf":154},
      {"t":11.8,"k":"0.225","mav":1.06,"rms":1.33,"sd":1.33,"var":1.77,"wl":0.00178,"iemg":0.0026,"ssc":88,"zc":57,"wamp":1,"mnf":162},
      {"t":12.3,"k":"0.225","mav":1.32,"rms":1.65,"sd":1.65,"var":2.72,"wl":0.00195,"iemg":0.00323,"ssc":95,"zc":48,"wamp":10,"mnf":144},
      {"t":12.8,"k":"0.225","mav":1.5,"rms":1.75,"sd":1.75,"var":3.06,"wl":0.00224,"iemg":0.0038,"ssc":86,"zc":53,"wamp":12,"mnf":159},
      {"t":13.3,"k":"0.225","mav":1.32,"rms":1.65,"sd":1.65,"var":2.72,"wl":0.00218,"iemg":0.00323,"ssc":93,"zc":47,"wamp":6,"mnf":150},
      {"t":13.8,"k":"0.225","mav":1.0,"rms":1.25,"sd":1.25,"var":1.56,"wl":0.002,"iemg":0.00245,"ssc":84,"zc":60,"wamp":3,"mnf":165},
      {"t":14.3,"k":"0.225","mav":0.86,"rms":1.08,"sd":1.08,"var":1.17,"wl":0.0017,"iemg":0.00211,"ssc":90,"zc":52,"wamp":2,"mnf":140},
      {"t":14.8,"k":"0.225","mav":0.8,"rms":1.0,"sd":1.0,"var":1.0,"wl":0.00158,"iemg":0.00196,"ssc":87,"zc":45,"wamp":1,"mnf":153},
      {"t":15.3,"k":"0.225","mav":0.73,"rms":0.91,"sd":0.91,"var":0.83,"wl":0.0015,"iemg":0.00179,"ssc":80,"zc":55,"wamp":0,"mnf":149},
      {"t":15.8,"k":"0.225","mav":0.83,"rms":1.04,"sd":1.04,"var":1.08,"wl":0.00138,"iemg":0.00203,"ssc":96,"zc":49,"wamp":1,"mnf":162},
      {"t":16.3,"k":"0.225","mav":0.92,"rms":1.15,"sd":1.15,"var":1.32,"wl":0.00134,"iemg":0.00225,"ssc":88,"zc":58,"wamp":0,"mnf":145},
      {"t":16.8,"k":"0.225","mav":1.05,"rms":1.31,"sd":1.31,"var":1.72,"wl":0.0013,"iemg":0.00257,"ssc":92,"zc":43,"wamp":0,"mnf":156},
      {"t":17.3,"k":"0.225","mav":0.87,"rms":1.09,"sd":1.09,"var":1.19,"wl":0.00136,"iemg":0.00213,"ssc":85,"zc":54,"wamp":1,"mnf":168},
      {"t":17.8,"k":"0.225","mav":1.3,"rms":2.2,"sd":2.18,"var":4.84,"wl":0.00162,"iemg":0.00319,"ssc":99,"zc":50,"wamp":9,"mnf":142},
      {"t":18.3,"k":"0.225","mav":0.88,"rms":1.1,"sd":1.1,"var":1.21,"wl":0.00144,"iemg":0.00216,"ssc":83,"zc":47,"wamp":0,"mnf":150},
      {"t":18.8,"k":"0.225","mav":0.84,"rms":1.05,"sd":1.05,"var":1.1,"wl":0.00152,"iemg":0.00206,"ssc":91,"zc":59,"wamp":1,"mnf":160},
      {"t":19.3,"k":"0.225","mav":0.96,"rms":1.2,"sd":1.2,"var":1.44,"wl":0.00155,"iemg":0.00235,"ssc":87,"zc":52,"wamp":1,"mnf":136},
      {"t":19.8,"k":"0.225","mav":1.1,"rms":1.38,"sd":1.38,"var":1.9,"wl":0.00172,"iemg":0.0027,"ssc":94,"zc":46,"wamp":0,"mnf":155},
      {"t":20.3,"k":"0.225","mav":1.16,"rms":1.45,"sd":1.45,"var":2.1,"wl":0.0018,"iemg":0.00284,"ssc":86,"zc":55,"wamp":3,"mnf":164},
      {"t":20.8,"k":"0.225","mav":1.09,"rms":1.36,"sd":1.36,"var":1.85,"wl":0.0019,"iemg":0.00267,"ssc":80,"zc":44,"wamp":1,"mnf":146},
      {"t":21.3,"k":"0.225","mav":1.17,"rms":1.46,"sd":1.46,"var":2.13,"wl":0.00198,"iemg":0.00287,"ssc":95,"zc":58,"wamp":4,"mnf":152},
      {"t":21.8,"k":"0.225","mav":1.65,"rms":2.05,"sd":2.04,"var":4.2,"wl":0.0023,"iemg":0.00415,"ssc":88,"zc":51,"wamp":14,"mnf":160},
      {"t":22.3,"k":"0.225","mav":1.04,"rms":1.3,"sd":1.3,"var":1.69,"wl":0.0017,"iemg":0.00255,"ssc":84,"zc":48,"wamp":5,"mnf":142},
      {"t":22.8,"k":"0.225","mav":1.0,"rms":1.25,"sd":1.25,"var":1.56,"wl":0.00156,"iemg":0.00245,"ssc":91,"zc":56,"wamp":1,"mnf":157},
      {"t":23.3,"k":"0.225","mav":0.91,"rms":1.14,"sd":1.14,"var":1.3,"wl":0.00152,"iemg":0.00223,"ssc":97,"zc":53,"wamp":0,"mnf":150},
      {"t":23.8,"k":"0.225","mav":0.84,"rms":1.05,"sd":1.05,"var":1.1,"wl":0.0015,"iemg":0.00206,"ssc":85,"zc":45,"wamp":1,"mnf":166},
      {"t":24.3,"k":"0.225","mav":0.94,"rms":1.18,"sd":1.18,"var":1.39,"wl":0.00145,"iemg":0.0023,"ssc":89,"zc":60,"wamp":3,"mnf":140},
      {"t":24.8,"k":"0.225","mav":0.87,"rms":1.09,"sd":1.09,"var":1.19,"wl":0.00135,"iemg":0.00213,"ssc":82,"zc":49,"wamp":1,"mnf":151},
      {"t":25.3,"k":"0.225","mav":0.83,"rms":1.04,"sd":1.04,"var":1.08,"wl":0.0013,"iemg":0.00203,"ssc":93,"zc":52,"wamp":1,"mnf":158},
      {"t":25.8,"k":"0.225","mav":0.75,"rms":0.94,"sd":0.94,"var":0.88,"wl":0.00122,"iemg":0.00184,"ssc":87,"zc":47,"wamp":0,"mnf":145},
      {"t":26.3,"k":"0.225","mav":0.65,"rms":0.81,"sd":0.81,"var":0.66,"wl":0.00112,"iemg":0.00159,"ssc":84,"zc":55,"wamp":0,"mnf":155},
      {"t":26.8,"k":"0.225","mav":0.72,"rms":0.9,"sd":0.9,"var":0.81,"wl":0.0012,"iemg":0.00176,"ssc":98,"zc":50,"wamp":0,"mnf":148},
      {"t":27.3,"k":"0.225","mav":1.03,"rms":1.29,"sd":1.29,"var":1.66,"wl":0.00145,"iemg":0.00252,"ssc":86,"zc":43,"wamp":0,"mnf":133},
      {"t":27.8,"k":"0.225","mav":1.04,"rms":1.3,"sd":1.3,"var":1.69,"wl":0.00157,"iemg":0.00255,"ssc":90,"zc":57,"wamp":0,"mnf":126},
      {"t":28.3,"k":"0.225","mav":1.11,"rms":1.39,"sd":1.39,"var":1.93,"wl":0.0016,"iemg":0.00272,"ssc":83,"zc":48,"wamp":1,"mnf":150},
      {"t":28.8,"k":"0.225","mav":1.2,"rms":1.5,"sd":1.5,"var":2.25,"wl":0.00172,"iemg":0.00294,"ssc":92,"zc":54,"wamp":3,"mnf":146},
      {"t":29.3,"k":"0.225","mav":1.11,"rms":1.39,"sd":1.39,"var":1.93,"wl":0.00178,"iemg":0.00272,"ssc":88,"zc":51,"wamp":0,"mnf":158},
      {"t":29.8,"k":"0.225","mav":1.09,"rms":1.36,"sd":1.36,"var":1.85,"wl":0.00185,"iemg":0.00267,"ssc":96,"zc":46,"wamp":5,"mnf":140},
      {"t":30.3,"k":"0.225","mav":1.09,"rms":1.36,"sd":1.36,"var":1.85,"wl":0.00182,"iemg":0.00267,"ssc":84,"zc":58,"wamp":2,"mnf":154},
      {"t":30.8,"k":"0.225","mav":0.99,"rms":1.24,"sd":1.24,"var":1.54,"wl":0.00172,"iemg":0.00243,"ssc":89,"zc":50,"wamp":5,"mnf":149},
      {"t":31.3,"k":"0.225","mav":1.06,"rms":1.33,"sd":1.33,"var":1.77,"wl":0.00166,"iemg":0.0026,"ssc":80,"zc":44,"wamp":1,"mnf":142},
      {"t":31.8,"k":"0.225","mav":0.94,"rms":1.18,"sd":1.18,"var":1.39,"wl":0.00156,"iemg":0.0023,"ssc":93,"zc":56,"wamp":0,"mnf":157},
      {"t":32.3,"k":"0.225","mav":0.91,"rms":1.14,"sd":1.14,"var":1.3,"wl":0.0015,"iemg":0.00223,"ssc":86,"zc":52,"wamp":0,"mnf":136},
      {"t":32.8,"k":"0.225","mav":0.84,"rms":1.05,"sd":1.05,"var":1.1,"wl":0.0014,"iemg":0.00206,"ssc":91,"zc":47,"wamp":0,"mnf":150},
      {"t":33.3,"k":"0.225","mav":0.83,"rms":1.04,"sd":1.04,"var":1.08,"wl":0.00135,"iemg":0.00203,"ssc":85,"zc":55,"wamp":0,"mnf":146},
      {"t":33.8,"k":"0.225","mav":0.79,"rms":0.99,"sd":0.99,"var":0.98,"wl":0.00127,"iemg":0.00194,"ssc":88,"zc":49,"wamp":0,"mnf":155},
      {"t":34.3,"k":"0.225","mav":0.85,"rms":1.06,"sd":1.06,"var":1.12,"wl":0.00133,"iemg":0.00208,"ssc":82,"zc":53,"wamp":0,"mnf":140},
      {"t":34.8,"k":"0.225","mav":0.97,"rms":1.21,"sd":1.21,"var":1.46,"wl":0.00149,"iemg":0.00238,"ssc":90,"zc":46,"wamp":3,"mnf":158},
      {"t":35.3,"k":"0.225","mav":1.04,"rms":1.3,"sd":1.3,"var":1.69,"wl":0.0016,"iemg":0.00255,"ssc":86,"zc":51,"wamp":2,"mnf":143},
      {"t":35.8,"k":"0.225","mav":1.14,"rms":1.43,"sd":1.43,"var":2.04,"wl":0.00174,"iemg":0.00279,"ssc":78,"zc":58,"wamp":4,"mnf":147},
      {"t":36.3,"k":"0.225","mav":1.06,"rms":1.33,"sd":1.33,"var":1.77,"wl":0.00182,"iemg":0.0026,"ssc":92,"zc":48,"wamp":5,"mnf":130},
      {"t":36.8,"k":"0.225","mav":1.07,"rms":1.34,"sd":1.34,"var":1.8,"wl":0.00198,"iemg":0.00262,"ssc":84,"zc":54,"wamp":6,"mnf":152},
      {"t":37.3,"k":"0.225","mav":1.45,"rms":1.8,"sd":1.79,"var":3.24,"wl":0.00208,"iemg":0.00355,"ssc":72,"zc":45,"wamp":8,"mnf":141},
      {"t":37.8,"k":"0.225","mav":1.14,"rms":1.43,"sd":1.43,"var":2.04,"wl":0.00188,"iemg":0.00279,"ssc":87,"zc":50,"wamp":4,"mnf":156},
      {"t":38.3,"k":"0.225","mav":1.12,"rms":1.4,"sd":1.4,"var":1.96,"wl":0.00178,"iemg":0.00274,"ssc":80,"zc":52,"wamp":2,"mnf":148},

      {"t":0.3,"k":"0.3","mav":0.85,"rms":1.06,"sd":1.06,"var":1.12,"wl":0.00181,"iemg":0.00276,"ssc":118,"zc":68,"wamp":0,"mnf":155},
      {"t":0.8,"k":"0.3","mav":0.92,"rms":1.15,"sd":1.15,"var":1.32,"wl":0.00197,"iemg":0.00299,"ssc":126,"zc":76,"wamp":3,"mnf":150},
      {"t":1.3,"k":"0.3","mav":0.88,"rms":1.1,"sd":1.1,"var":1.21,"wl":0.0019,"iemg":0.00286,"ssc":132,"zc":88,"wamp":1,"mnf":162},
      {"t":1.8,"k":"0.3","mav":0.83,"rms":1.04,"sd":1.04,"var":1.08,"wl":0.00182,"iemg":0.0027,"ssc":115,"zc":72,"wamp":0,"mnf":146},
      {"t":2.3,"k":"0.3","mav":0.73,"rms":0.91,"sd":0.91,"var":0.83,"wl":0.0018,"iemg":0.00237,"ssc":124,"zc":80,"wamp":5,"mnf":152},
      {"t":2.8,"k":"0.3","mav":0.93,"rms":1.16,"sd":1.16,"var":1.35,"wl":0.00212,"iemg":0.00302,"ssc":120,"zc":70,"wamp":2,"mnf":164},
      {"t":3.3,"k":"0.3","mav":1.0,"rms":1.25,"sd":1.25,"var":1.56,"wl":0.00235,"iemg":0.00325,"ssc":128,"zc":86,"wamp":4,"mnf":144},
      {"t":3.8,"k":"0.3","mav":1.25,"rms":1.56,"sd":1.56,"var":2.43,"wl":0.00289,"iemg":0.00406,"ssc":110,"zc":74,"wamp":9,"mnf":156},
      {"t":4.3,"k":"0.3","mav":1.24,"rms":1.55,"sd":1.55,"var":2.4,"wl":0.00275,"iemg":0.00403,"ssc":122,"zc":82,"wamp":10,"mnf":150},
      {"t":4.8,"k":"0.3","mav":1.1,"rms":1.38,"sd":1.38,"var":1.9,"wl":0.00266,"iemg":0.00358,"ssc":117,"zc":88,"wamp":6,"mnf":160},
      {"t":5.3,"k":"0.3","mav":1.07,"rms":1.34,"sd":1.34,"var":1.8,"wl":0.00268,"iemg":0.00348,"ssc":129,"zc":72,"wamp":4,"mnf":147},
      {"t":5.8,"k":"0.3","mav":1.12,"rms":1.4,"sd":1.4,"var":1.96,"wl":0.00262,"iemg":0.00364,"ssc":113,"zc":78,"wamp":7,"mnf":151},
      {"t":6.3,"k":"0.3","mav":1.06,"rms":1.33,"sd":1.33,"var":1.77,"wl":0.0024,"iemg":0.00345,"ssc":121,"zc":85,"wamp":3,"mnf":158},
      {"t":6.8,"k":"0.3","mav":0.92,"rms":1.15,"sd":1.15,"var":1.32,"wl":0.00225,"iemg":0.00299,"ssc":108,"zc":70,"wamp":8,"mnf":142},
      {"t":7.3,"k":"0.3","mav":0.83,"rms":1.04,"sd":1.04,"var":1.08,"wl":0.00214,"iemg":0.0027,"ssc":125,"zc":83,"wamp":1,"mnf":154},
      {"t":7.8,"k":"0.3","mav":0.77,"rms":0.96,"sd":0.96,"var":0.92,"wl":0.00182,"iemg":0.0025,"ssc":116,"zc":75,"wamp":1,"mnf":162},
      {"t":8.3,"k":"0.3","mav":0.73,"rms":0.91,"sd":0.91,"var":0.83,"wl":0.0016,"iemg":0.00237,"ssc":112,"zc":68,"wamp":0,"mnf":150},
      {"t":8.8,"k":"0.3","mav":0.79,"rms":0.99,"sd":0.99,"var":0.98,"wl":0.00178,"iemg":0.00257,"ssc":123,"zc":80,"wamp":0,"mnf":155},
      {"t":9.3,"k":"0.3","mav":0.86,"rms":1.08,"sd":1.08,"var":1.17,"wl":0.00188,"iemg":0.0028,"ssc":118,"zc":86,"wamp":3,"mnf":145},
      {"t":9.8,"k":"0.3","mav":0.9,"rms":1.13,"sd":1.13,"var":1.28,"wl":0.00195,"iemg":0.00293,"ssc":127,"zc":72,"wamp":2,"mnf":157},
      {"t":10.3,"k":"0.3","mav":1.35,"rms":2.2,"sd":2.18,"var":4.84,"wl":0.00262,"iemg":0.0045,"ssc":114,"zc":78,"wamp":19,"mnf":165},
      {"t":10.8,"k":"0.3","mav":1.05,"rms":1.31,"sd":1.31,"var":1.72,"wl":0.0022,"iemg":0.00341,"ssc":95,"zc":62,"wamp":8,"mnf":134},
      {"t":11.3,"k":"0.3","mav":1.1,"rms":1.38,"sd":1.38,"var":1.9,"wl":0.00215,"iemg":0.00358,"ssc":103,"zc":70,"wamp":4,"mnf":152},
      {"t":11.8,"k":"0.3","mav":1.04,"rms":1.3,"sd":1.3,"var":1.69,"wl":0.0023,"iemg":0.00338,"ssc":110,"zc":65,"wamp":2,"mnf":158},
      {"t":12.3,"k":"0.3","mav":1.3,"rms":1.63,"sd":1.63,"var":2.66,"wl":0.0026,"iemg":0.00423,"ssc":116,"zc":58,"wamp":14,"mnf":147},
      {"t":12.8,"k":"0.3","mav":1.42,"rms":1.7,"sd":1.7,"var":2.89,"wl":0.00305,"iemg":0.0048,"ssc":107,"zc":72,"wamp":20,"mnf":156},
      {"t":13.3,"k":"0.3","mav":1.3,"rms":1.63,"sd":1.63,"var":2.66,"wl":0.0029,"iemg":0.00423,"ssc":114,"zc":64,"wamp":10,"mnf":150},
      {"t":13.8,"k":"0.3","mav":1.02,"rms":1.28,"sd":1.28,"var":1.64,"wl":0.0026,"iemg":0.00332,"ssc":120,"zc":68,"wamp":6,"mnf":160},
      {"t":14.3,"k":"0.3","mav":0.85,"rms":1.06,"sd":1.06,"var":1.12,"wl":0.00227,"iemg":0.00276,"ssc":112,"zc":60,"wamp":4,"mnf":143},
      {"t":14.8,"k":"0.3","mav":0.83,"rms":1.04,"sd":1.04,"var":1.08,"wl":0.00205,"iemg":0.0027,"ssc":118,"zc":75,"wamp":2,"mnf":152},
      {"t":15.3,"k":"0.3","mav":0.76,"rms":0.95,"sd":0.95,"var":0.9,"wl":0.0019,"iemg":0.00247,"ssc":108,"zc":66,"wamp":1,"mnf":149},
      {"t":15.8,"k":"0.3","mav":0.82,"rms":1.03,"sd":1.03,"var":1.06,"wl":0.00182,"iemg":0.00267,"ssc":121,"zc":70,"wamp":3,"mnf":158},
      {"t":16.3,"k":"0.3","mav":0.9,"rms":1.13,"sd":1.13,"var":1.28,"wl":0.00176,"iemg":0.00293,"ssc":115,"zc":62,"wamp":0,"mnf":146},
      {"t":16.8,"k":"0.3","mav":0.97,"rms":1.21,"sd":1.21,"var":1.46,"wl":0.0017,"iemg":0.00315,"ssc":124,"zc":74,"wamp":1,"mnf":154},
      {"t":17.3,"k":"0.3","mav":0.88,"rms":1.1,"sd":1.1,"var":1.21,"wl":0.00178,"iemg":0.00286,"ssc":110,"zc":68,"wamp":2,"mnf":162},
      {"t":17.8,"k":"0.3","mav":1.2,"rms":2.0,"sd":1.98,"var":4.0,"wl":0.0023,"iemg":0.0039,"ssc":119,"zc":72,"wamp":13,"mnf":145},
      {"t":18.3,"k":"0.3","mav":0.89,"rms":1.11,"sd":1.11,"var":1.23,"wl":0.00175,"iemg":0.00289,"ssc":113,"zc":78,"wamp":1,"mnf":150},
      {"t":18.8,"k":"0.3","mav":0.86,"rms":1.08,"sd":1.08,"var":1.17,"wl":0.00178,"iemg":0.0028,"ssc":122,"zc":70,"wamp":3,"mnf":157},
      {"t":19.3,"k":"0.3","mav":0.95,"rms":1.19,"sd":1.19,"var":1.42,"wl":0.00185,"iemg":0.00309,"ssc":117,"zc":65,"wamp":2,"mnf":140},
      {"t":19.8,"k":"0.3","mav":1.08,"rms":1.35,"sd":1.35,"var":1.82,"wl":0.00205,"iemg":0.00351,"ssc":126,"zc":76,"wamp":0,"mnf":153},
      {"t":20.3,"k":"0.3","mav":1.15,"rms":1.44,"sd":1.44,"var":2.07,"wl":0.0022,"iemg":0.00374,"ssc":114,"zc":68,"wamp":5,"mnf":160},
      {"t":20.8,"k":"0.3","mav":1.1,"rms":1.38,"sd":1.38,"var":1.9,"wl":0.00238,"iemg":0.00358,"ssc":120,"zc":72,"wamp":3,"mnf":148},
      {"t":21.3,"k":"0.3","mav":1.15,"rms":1.44,"sd":1.44,"var":2.07,"wl":0.0025,"iemg":0.00374,"ssc":118,"zc":80,"wamp":6,"mnf":152},
      {"t":21.8,"k":"0.3","mav":1.6,"rms":2.0,"sd":1.99,"var":4.0,"wl":0.00315,"iemg":0.00545,"ssc":125,"zc":70,"wamp":19,"mnf":158},
      {"t":22.3,"k":"0.3","mav":1.06,"rms":1.33,"sd":1.33,"var":1.77,"wl":0.0023,"iemg":0.00345,"ssc":116,"zc":83,"wamp":8,"mnf":145},
      {"t":22.8,"k":"0.3","mav":0.98,"rms":1.23,"sd":1.23,"var":1.51,"wl":0.00218,"iemg":0.00319,"ssc":137,"zc":76,"wamp":3,"mnf":155},
      {"t":23.3,"k":"0.3","mav":0.93,"rms":1.16,"sd":1.16,"var":1.35,"wl":0.00214,"iemg":0.00302,"ssc":122,"zc":70,"wamp":1,"mnf":150},
      {"t":23.8,"k":"0.3","mav":0.86,"rms":1.08,"sd":1.08,"var":1.17,"wl":0.00208,"iemg":0.0028,"ssc":112,"zc":82,"wamp":2,"mnf":161},
      {"t":24.3,"k":"0.3","mav":0.92,"rms":1.15,"sd":1.15,"var":1.32,"wl":0.002,"iemg":0.00299,"ssc":119,"zc":74,"wamp":5,"mnf":143},
      {"t":24.8,"k":"0.3","mav":0.88,"rms":1.1,"sd":1.1,"var":1.21,"wl":0.00185,"iemg":0.00286,"ssc":126,"zc":68,"wamp":3,"mnf":151},
      {"t":25.3,"k":"0.3","mav":0.82,"rms":1.03,"sd":1.03,"var":1.06,"wl":0.00178,"iemg":0.00267,"ssc":113,"zc":78,"wamp":2,"mnf":156},
      {"t":25.8,"k":"0.3","mav":0.77,"rms":0.96,"sd":0.96,"var":0.92,"wl":0.00168,"iemg":0.0025,"ssc":118,"zc":72,"wamp":0,"mnf":147},
      {"t":26.3,"k":"0.3","mav":0.69,"rms":0.86,"sd":0.86,"var":0.74,"wl":0.00152,"iemg":0.00224,"ssc":110,"zc":75,"wamp":0,"mnf":153},
      {"t":26.8,"k":"0.3","mav":0.71,"rms":0.89,"sd":0.89,"var":0.79,"wl":0.00175,"iemg":0.00231,"ssc":136,"zc":70,"wamp":0,"mnf":149},
      {"t":27.3,"k":"0.3","mav":1.01,"rms":1.26,"sd":1.26,"var":1.59,"wl":0.002,"iemg":0.00328,"ssc":120,"zc":66,"wamp":0,"mnf":136},
      {"t":27.8,"k":"0.3","mav":1.06,"rms":1.33,"sd":1.33,"var":1.77,"wl":0.00212,"iemg":0.00345,"ssc":112,"zc":74,"wamp":1,"mnf":128},
      {"t":28.3,"k":"0.3","mav":1.1,"rms":1.38,"sd":1.38,"var":1.9,"wl":0.00215,"iemg":0.00358,"ssc":117,"zc":68,"wamp":2,"mnf":149},
      {"t":28.8,"k":"0.3","mav":1.18,"rms":1.48,"sd":1.48,"var":2.19,"wl":0.00235,"iemg":0.00384,"ssc":108,"zc":72,"wamp":5,"mnf":147},
      {"t":29.3,"k":"0.3","mav":1.13,"rms":1.41,"sd":1.41,"var":1.99,"wl":0.00245,"iemg":0.00367,"ssc":115,"zc":62,"wamp":1,"mnf":155},
      {"t":29.8,"k":"0.3","mav":1.08,"rms":1.35,"sd":1.35,"var":1.82,"wl":0.00255,"iemg":0.00351,"ssc":121,"zc":78,"wamp":8,"mnf":142},
      {"t":30.3,"k":"0.3","mav":1.1,"rms":1.38,"sd":1.38,"var":1.9,"wl":0.0025,"iemg":0.00358,"ssc":110,"zc":70,"wamp":4,"mnf":152},
      {"t":30.8,"k":"0.3","mav":1.01,"rms":1.26,"sd":1.26,"var":1.59,"wl":0.0023,"iemg":0.00328,"ssc":118,"zc":66,"wamp":8,"mnf":149},
      {"t":31.3,"k":"0.3","mav":1.05,"rms":1.31,"sd":1.31,"var":1.72,"wl":0.00218,"iemg":0.00341,"ssc":113,"zc":74,"wamp":2,"mnf":144},
      {"t":31.8,"k":"0.3","mav":0.96,"rms":1.2,"sd":1.2,"var":1.44,"wl":0.00198,"iemg":0.00312,"ssc":116,"zc":68,"wamp":1,"mnf":155},
      {"t":32.3,"k":"0.3","mav":0.9,"rms":1.13,"sd":1.13,"var":1.28,"wl":0.00188,"iemg":0.00293,"ssc":109,"zc":72,"wamp":2,"mnf":139},
      {"t":32.8,"k":"0.3","mav":0.86,"rms":1.08,"sd":1.08,"var":1.17,"wl":0.0018,"iemg":0.0028,"ssc":120,"zc":64,"wamp":0,"mnf":149},
      {"t":33.3,"k":"0.3","mav":0.82,"rms":1.03,"sd":1.03,"var":1.06,"wl":0.00174,"iemg":0.00267,"ssc":114,"zc":75,"wamp":1,"mnf":147},
      {"t":33.8,"k":"0.3","mav":0.81,"rms":1.01,"sd":1.01,"var":1.02,"wl":0.00162,"iemg":0.00263,"ssc":118,"zc":70,"wamp":0,"mnf":153},
      {"t":34.3,"k":"0.3","mav":0.86,"rms":1.08,"sd":1.08,"var":1.17,"wl":0.0017,"iemg":0.0028,"ssc":111,"zc":62,"wamp":1,"mnf":142},
      {"t":34.8,"k":"0.3","mav":0.95,"rms":1.19,"sd":1.19,"var":1.42,"wl":0.00195,"iemg":0.00309,"ssc":117,"zc":68,"wamp":6,"mnf":156},
      {"t":35.3,"k":"0.3","mav":1.06,"rms":1.33,"sd":1.33,"var":1.77,"wl":0.0021,"iemg":0.00345,"ssc":113,"zc":72,"wamp":4,"mnf":145},
      {"t":35.8,"k":"0.3","mav":1.12,"rms":1.4,"sd":1.4,"var":1.96,"wl":0.00232,"iemg":0.00364,"ssc":110,"zc":65,"wamp":6,"mnf":146},
      {"t":36.3,"k":"0.3","mav":1.09,"rms":1.36,"sd":1.36,"var":1.85,"wl":0.00242,"iemg":0.00354,"ssc":104,"zc":60,"wamp":8,"mnf":133},
      {"t":36.8,"k":"0.3","mav":1.05,"rms":1.31,"sd":1.31,"var":1.72,"wl":0.00265,"iemg":0.00341,"ssc":118,"zc":70,"wamp":9,"mnf":150},
      {"t":37.3,"k":"0.3","mav":1.35,"rms":1.7,"sd":1.7,"var":2.89,"wl":0.00275,"iemg":0.00439,"ssc":108,"zc":66,"wamp":12,"mnf":143},
      {"t":37.8,"k":"0.3","mav":1.16,"rms":1.45,"sd":1.45,"var":2.1,"wl":0.00255,"iemg":0.00377,"ssc":113,"zc":72,"wamp":6,"mnf":153},
      {"t":38.3,"k":"0.3","mav":1.1,"rms":1.38,"sd":1.38,"var":1.9,"wl":0.0024,"iemg":0.00358,"ssc":110,"zc":68,"wamp":3,"mnf":148},

      {"t":0.55,"k":"0.15","mav":0.78,"rms":0.98,"sd":0.98,"var":0.96,"wl":0.00101,"iemg":0.00129,"ssc":64,"zc":29,"wamp":0,"mnf":148},
      {"t":1.05,"k":"0.15","mav":1.05,"rms":1.31,"sd":1.31,"var":1.72,"wl":0.00095,"iemg":0.00173,"ssc":53,"zc":40,"wamp":1,"mnf":160},
      {"t":1.55,"k":"0.15","mav":0.92,"rms":1.15,"sd":1.15,"var":1.32,"wl":0.001,"iemg":0.00152,"ssc":59,"zc":36,"wamp":0,"mnf":134},
      {"t":2.05,"k":"0.15","mav":0.8,"rms":1.0,"sd":1.0,"var":1.0,"wl":0.00089,"iemg":0.00132,"ssc":67,"zc":27,"wamp":1,"mnf":165},
      {"t":2.55,"k":"0.15","mav":0.74,"rms":0.93,"sd":0.93,"var":0.86,"wl":0.00104,"iemg":0.00122,"ssc":52,"zc":38,"wamp":0,"mnf":142},
      {"t":3.05,"k":"0.15","mav":1.12,"rms":1.4,"sd":1.4,"var":1.96,"wl":0.00111,"iemg":0.00185,"ssc":62,"zc":33,"wamp":1,"mnf":152},
      {"t":3.55,"k":"0.15","mav":1.15,"rms":1.44,"sd":1.44,"var":2.07,"wl":0.00138,"iemg":0.0019,"ssc":57,"zc":45,"wamp":2,"mnf":170},
      {"t":4.05,"k":"0.15","mav":1.28,"rms":1.6,"sd":1.6,"var":2.56,"wl":0.00141,"iemg":0.00211,"ssc":65,"zc":29,"wamp":2,"mnf":138},
      {"t":4.55,"k":"0.15","mav":1.25,"rms":1.56,"sd":1.56,"var":2.43,"wl":0.00143,"iemg":0.00206,"ssc":50,"zc":35,"wamp":1,"mnf":158},
      {"t":5.05,"k":"0.15","mav":1.02,"rms":1.28,"sd":1.28,"var":1.64,"wl":0.0013,"iemg":0.00168,"ssc":60,"zc":42,"wamp":0,"mnf":144},
      {"t":5.55,"k":"0.15","mav":1.1,"rms":1.38,"sd":1.38,"var":1.9,"wl":0.00135,"iemg":0.00182,"ssc":66,"zc":31,"wamp":2,"mnf":166},
      {"t":6.05,"k":"0.15","mav":1.2,"rms":1.5,"sd":1.5,"var":2.25,"wl":0.00117,"iemg":0.00198,"ssc":55,"zc":38,"wamp":1,"mnf":131},
      {"t":6.55,"k":"0.15","mav":0.9,"rms":1.13,"sd":1.13,"var":1.28,"wl":0.00114,"iemg":0.00149,"ssc":63,"zc":26,"wamp":1,"mnf":150},
      {"t":7.05,"k":"0.15","mav":0.88,"rms":1.1,"sd":1.1,"var":1.21,"wl":0.00101,"iemg":0.00145,"ssc":51,"zc":36,"wamp":0,"mnf":163},
      {"t":7.55,"k":"0.15","mav":0.77,"rms":0.96,"sd":0.96,"var":0.92,"wl":0.00098,"iemg":0.00127,"ssc":58,"zc":41,"wamp":0,"mnf":140},
      {"t":8.05,"k":"0.15","mav":0.74,"rms":0.93,"sd":0.93,"var":0.86,"wl":0.00082,"iemg":0.00122,"ssc":64,"zc":30,"wamp":0,"mnf":157},
      {"t":8.55,"k":"0.15","mav":0.72,"rms":0.9,"sd":0.9,"var":0.81,"wl":0.00092,"iemg":0.00119,"ssc":53,"zc":34,"wamp":0,"mnf":171},
      {"t":9.05,"k":"0.15","mav":0.9,"rms":1.13,"sd":1.13,"var":1.28,"wl":0.00094,"iemg":0.00149,"ssc":61,"zc":38,"wamp":0,"mnf":135},
      {"t":9.55,"k":"0.15","mav":0.84,"rms":1.05,"sd":1.05,"var":1.1,"wl":0.00106,"iemg":0.00139,"ssc":56,"zc":27,"wamp":1,"mnf":153},
      {"t":10.05,"k":"0.15","mav":1.08,"rms":1.35,"sd":1.35,"var":1.82,"wl":0.00112,"iemg":0.00178,"ssc":62,"zc":39,"wamp":3,"mnf":161},
      {"t":10.55,"k":"0.15","mav":1.25,"rms":1.56,"sd":1.56,"var":2.43,"wl":0.00119,"iemg":0.00206,"ssc":48,"zc":36,"wamp":4,"mnf":180},
      {"t":11.05,"k":"0.15","mav":1.0,"rms":1.25,"sd":1.25,"var":1.56,"wl":0.00124,"iemg":0.00165,"ssc":50,"zc":30,"wamp":1,"mnf":140},
      {"t":11.55,"k":"0.15","mav":1.18,"rms":1.48,"sd":1.48,"var":2.19,"wl":0.00112,"iemg":0.00195,"ssc":57,"zc":41,"wamp":0,"mnf":149},
      {"t":12.05,"k":"0.15","mav":1.2,"rms":1.5,"sd":1.5,"var":2.25,"wl":0.00129,"iemg":0.00198,"ssc":64,"zc":33,"wamp":2,"mnf":132},
      {"t":12.55,"k":"0.15","mav":1.45,"rms":1.72,"sd":1.72,"var":2.96,"wl":0.00143,"iemg":0.00239,"ssc":54,"zc":28,"wamp":5,"mnf":162},
      {"t":13.05,"k":"0.15","mav":1.55,"rms":1.78,"sd":1.78,"var":3.17,"wl":0.00162,"iemg":0.00256,"ssc":59,"zc":37,"wamp":4,"mnf":145},
      {"t":13.55,"k":"0.15","mav":1.05,"rms":1.31,"sd":1.31,"var":1.72,"wl":0.00145,"iemg":0.00173,"ssc":52,"zc":43,"wamp":2,"mnf":158},
      {"t":14.05,"k":"0.15","mav":0.98,"rms":1.23,"sd":1.23,"var":1.51,"wl":0.00131,"iemg":0.00162,"ssc":62,"zc":31,"wamp":1,"mnf":137},
      {"t":14.55,"k":"0.15","mav":0.8,"rms":1.0,"sd":1.0,"var":1.0,"wl":0.00106,"iemg":0.00132,"ssc":56,"zc":35,"wamp":0,"mnf":166},
      {"t":15.05,"k":"0.15","mav":0.76,"rms":0.95,"sd":0.95,"var":0.9,"wl":0.00108,"iemg":0.00125,"ssc":65,"zc":30,"wamp":0,"mnf":151},
      {"t":15.55,"k":"0.15","mav":0.72,"rms":0.9,"sd":0.9,"var":0.81,"wl":0.00094,"iemg":0.00119,"ssc":51,"zc":38,"wamp":1,"mnf":140},
      {"t":16.05,"k":"0.15","mav":0.94,"rms":1.18,"sd":1.18,"var":1.39,"wl":0.00095,"iemg":0.00155,"ssc":60,"zc":27,"wamp":0,"mnf":160},
      {"t":16.55,"k":"0.15","mav":0.96,"rms":1.2,"sd":1.2,"var":1.44,"wl":0.00085,"iemg":0.00158,"ssc":55,"zc":39,"wamp":0,"mnf":147},
      {"t":17.05,"k":"0.15","mav":0.92,"rms":1.15,"sd":1.15,"var":1.32,"wl":0.00091,"iemg":0.00152,"ssc":63,"zc":34,"wamp":0,"mnf":133},
      {"t":17.55,"k":"0.15","mav":0.88,"rms":1.1,"sd":1.1,"var":1.21,"wl":0.00094,"iemg":0.00145,"ssc":58,"zc":31,"wamp":1,"mnf":158},
      {"t":18.05,"k":"0.15","mav":0.95,"rms":1.19,"sd":1.19,"var":1.42,"wl":0.00093,"iemg":0.00157,"ssc":52,"zc":42,"wamp":2,"mnf":168},
      {"t":18.55,"k":"0.15","mav":0.9,"rms":1.13,"sd":1.13,"var":1.28,"wl":0.00098,"iemg":0.00149,"ssc":61,"zc":28,"wamp":0,"mnf":142},
      {"t":19.05,"k":"0.15","mav":0.86,"rms":1.08,"sd":1.08,"var":1.17,"wl":0.00099,"iemg":0.00142,"ssc":57,"zc":36,"wamp":0,"mnf":155},
      {"t":19.55,"k":"0.15","mav":1.1,"rms":1.38,"sd":1.38,"var":1.9,"wl":0.0011,"iemg":0.00182,"ssc":54,"zc":33,"wamp":0,"mnf":146},
      {"t":20.05,"k":"0.15","mav":1.2,"rms":1.5,"sd":1.5,"var":2.25,"wl":0.00112,"iemg":0.00198,"ssc":66,"zc":39,"wamp":1,"mnf":163},
      {"t":20.55,"k":"0.15","mav":1.08,"rms":1.35,"sd":1.35,"var":1.82,"wl":0.00126,"iemg":0.00178,"ssc":53,"zc":30,"wamp":0,"mnf":137},
      {"t":21.05,"k":"0.15","mav":1.2,"rms":1.5,"sd":1.5,"var":2.25,"wl":0.00128,"iemg":0.00198,"ssc":59,"zc":35,"wamp":1,"mnf":159},
      {"t":21.55,"k":"0.15","mav":1.3,"rms":1.63,"sd":1.63,"var":2.66,"wl":0.00144,"iemg":0.00215,"ssc":62,"zc":27,"wamp":4,"mnf":148},
      {"t":22.05,"k":"0.15","mav":1.15,"rms":1.44,"sd":1.44,"var":2.07,"wl":0.00141,"iemg":0.0019,"ssc":55,"zc":38,"wamp":5,"mnf":170},
      {"t":22.55,"k":"0.15","mav":0.95,"rms":1.19,"sd":1.19,"var":1.42,"wl":0.00129,"iemg":0.00157,"ssc":60,"zc":32,"wamp":1,"mnf":143},
      {"t":23.05,"k":"0.15","mav":1.0,"rms":1.25,"sd":1.25,"var":1.56,"wl":0.00113,"iemg":0.00165,"ssc":64,"zc":40,"wamp":0,"mnf":151},
      {"t":23.55,"k":"0.15","mav":0.9,"rms":1.13,"sd":1.13,"var":1.28,"wl":0.00116,"iemg":0.00149,"ssc":52,"zc":29,"wamp":0,"mnf":160},
      {"t":24.05,"k":"0.15","mav":0.85,"rms":1.06,"sd":1.06,"var":1.12,"wl":0.00104,"iemg":0.0014,"ssc":58,"zc":35,"wamp":1,"mnf":139},
      {"t":24.55,"k":"0.15","mav":0.95,"rms":1.19,"sd":1.19,"var":1.42,"wl":0.00103,"iemg":0.00157,"ssc":61,"zc":37,"wamp":0,"mnf":156},
      {"t":25.05,"k":"0.15","mav":0.8,"rms":1.0,"sd":1.0,"var":1.0,"wl":0.00089,"iemg":0.00132,"ssc":55,"zc":28,"wamp":0,"mnf":132},
      {"t":25.55,"k":"0.15","mav":0.82,"rms":1.03,"sd":1.03,"var":1.06,"wl":0.0009,"iemg":0.00135,"ssc":63,"zc":33,"wamp":0,"mnf":164},
      {"t":26.05,"k":"0.15","mav":0.7,"rms":0.88,"sd":0.88,"var":0.77,"wl":0.00077,"iemg":0.00116,"ssc":50,"zc":39,"wamp":0,"mnf":147},
      {"t":26.55,"k":"0.15","mav":0.62,"rms":0.78,"sd":0.78,"var":0.61,"wl":0.00081,"iemg":0.00102,"ssc":59,"zc":31,"wamp":0,"mnf":155},
      {"t":27.05,"k":"0.15","mav":0.95,"rms":1.19,"sd":1.19,"var":1.42,"wl":0.00094,"iemg":0.00157,"ssc":62,"zc":36,"wamp":0,"mnf":122},
      {"t":27.55,"k":"0.15","mav":1.1,"rms":1.38,"sd":1.38,"var":1.9,"wl":0.00102,"iemg":0.00182,"ssc":57,"zc":30,"wamp":0,"mnf":140},
      {"t":28.05,"k":"0.15","mav":1.04,"rms":1.3,"sd":1.3,"var":1.69,"wl":0.00115,"iemg":0.00172,"ssc":60,"zc":41,"wamp":0,"mnf":146},
      {"t":28.55,"k":"0.15","mav":1.18,"rms":1.48,"sd":1.48,"var":2.19,"wl":0.00112,"iemg":0.00195,"ssc":53,"zc":34,"wamp":1,"mnf":158},
      {"t":29.05,"k":"0.15","mav":1.25,"rms":1.56,"sd":1.56,"var":2.43,"wl":0.00121,"iemg":0.00206,"ssc":61,"zc":28,"wamp":0,"mnf":130},
      {"t":29.55,"k":"0.15","mav":1.05,"rms":1.31,"sd":1.31,"var":1.72,"wl":0.00118,"iemg":0.00173,"ssc":56,"zc":36,"wamp":1,"mnf":153},
      {"t":30.05,"k":"0.15","mav":1.16,"rms":1.45,"sd":1.45,"var":2.1,"wl":0.00124,"iemg":0.00191,"ssc":59,"zc":33,"wamp":2,"mnf":164},
      {"t":30.55,"k":"0.15","mav":1.02,"rms":1.28,"sd":1.28,"var":1.64,"wl":0.00114,"iemg":0.00168,"ssc":64,"zc":30,"wamp":1,"mnf":141},
      {"t":31.05,"k":"0.15","mav":0.98,"rms":1.23,"sd":1.23,"var":1.51,"wl":0.00116,"iemg":0.00162,"ssc":52,"zc":39,"wamp":0,"mnf":150},
      {"t":31.55,"k":"0.15","mav":1.06,"rms":1.33,"sd":1.33,"var":1.77,"wl":0.00103,"iemg":0.00175,"ssc":57,"zc":27,"wamp":0,"mnf":159},
      {"t":32.05,"k":"0.15","mav":0.88,"rms":1.1,"sd":1.1,"var":1.21,"wl":0.00103,"iemg":0.00145,"ssc":62,"zc":35,"wamp":0,"mnf":133},
      {"t":32.55,"k":"0.15","mav":0.9,"rms":1.13,"sd":1.13,"var":1.28,"wl":0.00092,"iemg":0.00149,"ssc":54,"zc":37,"wamp":0,"mnf":148},
      {"t":33.05,"k":"0.15","mav":0.78,"rms":0.98,"sd":0.98,"var":0.96,"wl":0.00095,"iemg":0.00129,"ssc":60,"zc":29,"wamp":0,"mnf":161},
      {"t":33.55,"k":"0.15","mav":0.84,"rms":1.05,"sd":1.05,"var":1.1,"wl":0.00085,"iemg":0.00139,"ssc":58,"zc":34,"wamp":0,"mnf":142},
      {"t":34.05,"k":"0.15","mav":0.74,"rms":0.93,"sd":0.93,"var":0.86,"wl":0.0009,"iemg":0.00122,"ssc":53,"zc":38,"wamp":0,"mnf":154},
      {"t":34.55,"k":"0.15","mav":0.9,"rms":1.13,"sd":1.13,"var":1.28,"wl":0.00091,"iemg":0.00149,"ssc":63,"zc":31,"wamp":1,"mnf":138},
      {"t":35.05,"k":"0.15","mav":1.08,"rms":1.35,"sd":1.35,"var":1.82,"wl":0.00104,"iemg":0.00178,"ssc":55,"zc":36,"wamp":0,"mnf":150},
      {"t":35.55,"k":"0.15","mav":1.05,"rms":1.31,"sd":1.31,"var":1.72,"wl":0.00106,"iemg":0.00173,"ssc":60,"zc":28,"wamp":2,"mnf":129},
      {"t":36.05,"k":"0.15","mav":1.15,"rms":1.44,"sd":1.44,"var":2.07,"wl":0.00121,"iemg":0.0019,"ssc":47,"zc":40,"wamp":1,"mnf":160},
      {"t":36.55,"k":"0.15","mav":1.0,"rms":1.25,"sd":1.25,"var":1.56,"wl":0.0012,"iemg":0.00165,"ssc":54,"zc":32,"wamp":3,"mnf":135},
      {"t":37.05,"k":"0.15","mav":1.25,"rms":1.56,"sd":1.56,"var":2.43,"wl":0.00139,"iemg":0.00206,"ssc":51,"zc":30,"wamp":2,"mnf":146},
      {"t":37.55,"k":"0.15","mav":1.3,"rms":1.63,"sd":1.63,"var":2.66,"wl":0.00136,"iemg":0.00215,"ssc":44,"zc":35,"wamp":3,"mnf":152},
      {"t":38.05,"k":"0.15","mav":1.08,"rms":1.35,"sd":1.35,"var":1.82,"wl":0.00128,"iemg":0.00178,"ssc":57,"zc":29,"wamp":1,"mnf":136},

      {"t":0.55,"k":"0.225","mav":0.88,"rms":1.1,"sd":1.1,"var":1.21,"wl":0.00145,"iemg":0.00216,"ssc":80,"zc":58,"wamp":1,"mnf":152},
      {"t":1.05,"k":"0.225","mav":0.94,"rms":1.18,"sd":1.18,"var":1.39,"wl":0.00141,"iemg":0.0023,"ssc":92,"zc":46,"wamp":1,"mnf":162},
      {"t":1.55,"k":"0.225","mav":0.83,"rms":1.04,"sd":1.04,"var":1.08,"wl":0.00143,"iemg":0.00203,"ssc":83,"zc":52,"wamp":0,"mnf":140},
      {"t":2.05,"k":"0.225","mav":0.78,"rms":0.98,"sd":0.98,"var":0.96,"wl":0.00127,"iemg":0.00191,"ssc":96,"zc":55,"wamp":2,"mnf":158},
      {"t":2.55,"k":"0.225","mav":0.8,"rms":1.0,"sd":1.0,"var":1.0,"wl":0.00151,"iemg":0.00196,"ssc":88,"zc":43,"wamp":2,"mnf":146},
      {"t":3.05,"k":"0.225","mav":1.02,"rms":1.28,"sd":1.28,"var":1.64,"wl":0.00165,"iemg":0.0025,"ssc":79,"zc":61,"wamp":1,"mnf":155},
      {"t":3.55,"k":"0.225","mav":1.12,"rms":1.4,"sd":1.4,"var":1.96,"wl":0.002,"iemg":0.00274,"ssc":97,"zc":48,"wamp":4,"mnf":164},
      {"t":4.05,"k":"0.225","mav":1.3,"rms":1.63,"sd":1.63,"var":2.66,"wl":0.00206,"iemg":0.00319,"ssc":84,"zc":56,"wamp":5,"mnf":143},
      {"t":4.55,"k":"0.225","mav":1.2,"rms":1.5,"sd":1.5,"var":2.25,"wl":0.00204,"iemg":0.00294,"ssc":92,"zc":50,"wamp":4,"mnf":157},
      {"t":5.05,"k":"0.225","mav":1.06,"rms":1.33,"sd":1.33,"var":1.77,"wl":0.00188,"iemg":0.0026,"ssc":81,"zc":44,"wamp":2,"mnf":147},
      {"t":5.55,"k":"0.225","mav":1.15,"rms":1.44,"sd":1.44,"var":2.07,"wl":0.00193,"iemg":0.00282,"ssc":95,"zc":60,"wamp":3,"mnf":160},
      {"t":6.05,"k":"0.225","mav":1.12,"rms":1.4,"sd":1.4,"var":1.96,"wl":0.00174,"iemg":0.00274,"ssc":86,"zc":51,"wamp":2,"mnf":139},
      {"t":6.55,"k":"0.225","mav":0.95,"rms":1.19,"sd":1.19,"var":1.42,"wl":0.00165,"iemg":0.00233,"ssc":78,"zc":47,"wamp":3,"mnf":151},
      {"t":7.05,"k":"0.225","mav":0.86,"rms":1.08,"sd":1.08,"var":1.17,"wl":0.00141,"iemg":0.00211,"ssc":91,"zc":63,"wamp":1,"mnf":159},
      {"t":7.55,"k":"0.225","mav":0.78,"rms":0.98,"sd":0.98,"var":0.96,"wl":0.00136,"iemg":0.00191,"ssc":87,"zc":52,"wamp":0,"mnf":145},
      {"t":8.05,"k":"0.225","mav":0.7,"rms":0.88,"sd":0.88,"var":0.77,"wl":0.0012,"iemg":0.00172,"ssc":82,"zc":45,"wamp":0,"mnf":153},
      {"t":8.55,"k":"0.225","mav":0.77,"rms":0.96,"sd":0.96,"var":0.92,"wl":0.00133,"iemg":0.00189,"ssc":94,"zc":57,"wamp":0,"mnf":163},
      {"t":9.05,"k":"0.225","mav":0.8,"rms":1.0,"sd":1.0,"var":1.0,"wl":0.00136,"iemg":0.00196,"ssc":80,"zc":49,"wamp":1,"mnf":141},
      {"t":9.55,"k":"0.225","mav":0.9,"rms":1.13,"sd":1.13,"var":1.28,"wl":0.0015,"iemg":0.00221,"ssc":89,"zc":62,"wamp":0,"mnf":150},
      {"t":10.05,"k":"0.225","mav":1.0,"rms":1.25,"sd":1.25,"var":1.56,"wl":0.00162,"iemg":0.00245,"ssc":93,"zc":53,"wamp":4,"mnf":158},
      {"t":10.55,"k":"0.225","mav":1.18,"rms":1.48,"sd":1.48,"var":2.19,"wl":0.00185,"iemg":0.00289,"ssc":78,"zc":44,"wamp":8,"mnf":168},
      {"t":11.05,"k":"0.225","mav":1.06,"rms":1.33,"sd":1.33,"var":1.77,"wl":0.00171,"iemg":0.0026,"ssc":80,"zc":48,"wamp":3,"mnf":142},
      {"t":11.55,"k":"0.225","mav":1.1,"rms":1.38,"sd":1.38,"var":1.9,"wl":0.0018,"iemg":0.0027,"ssc":90,"zc":58,"wamp":1,"mnf":150},
      {"t":12.05,"k":"0.225","mav":1.16,"rms":1.45,"sd":1.45,"var":2.1,"wl":0.00182,"iemg":0.00284,"ssc":84,"zc":51,"wamp":6,"mnf":140},
      {"t":12.55,"k":"0.225","mav":1.4,"rms":1.65,"sd":1.65,"var":2.72,"wl":0.00214,"iemg":0.00343,"ssc":97,"zc":45,"wamp":9,"mnf":158},
      {"t":13.05,"k":"0.225","mav":1.45,"rms":1.7,"sd":1.7,"var":2.89,"wl":0.00216,"iemg":0.00355,"ssc":81,"zc":56,"wamp":8,"mnf":148},
      {"t":13.55,"k":"0.225","mav":1.12,"rms":1.4,"sd":1.4,"var":1.96,"wl":0.00213,"iemg":0.00274,"ssc":89,"zc":50,"wamp":4,"mnf":155},
      {"t":14.05,"k":"0.225","mav":0.95,"rms":1.19,"sd":1.19,"var":1.42,"wl":0.00181,"iemg":0.00233,"ssc":93,"zc":42,"wamp":2,"mnf":142},
      {"t":14.55,"k":"0.225","mav":0.82,"rms":1.03,"sd":1.03,"var":1.06,"wl":0.00168,"iemg":0.00201,"ssc":82,"zc":59,"wamp":1,"mnf":160},
      {"t":15.05,"k":"0.225","mav":0.78,"rms":0.98,"sd":0.98,"var":0.96,"wl":0.00151,"iemg":0.00191,"ssc":88,"zc":48,"wamp":0,"mnf":150},
      {"t":15.55,"k":"0.225","mav":0.76,"rms":0.95,"sd":0.95,"var":0.9,"wl":0.00148,"iemg":0.00186,"ssc":95,"zc":53,"wamp":1,"mnf":144},
      {"t":16.05,"k":"0.225","mav":0.88,"rms":1.1,"sd":1.1,"var":1.21,"wl":0.00132,"iemg":0.00216,"ssc":84,"zc":46,"wamp":0,"mnf":156},
      {"t":16.55,"k":"0.225","mav":0.96,"rms":1.2,"sd":1.2,"var":1.44,"wl":0.00135,"iemg":0.00235,"ssc":80,"zc":61,"wamp":0,"mnf":149},
      {"t":17.05,"k":"0.225","mav":0.94,"rms":1.18,"sd":1.18,"var":1.39,"wl":0.00129,"iemg":0.0023,"ssc":94,"zc":50,"wamp":1,"mnf":139},
      {"t":17.55,"k":"0.225","mav":0.9,"rms":1.13,"sd":1.13,"var":1.28,"wl":0.00145,"iemg":0.00221,"ssc":86,"zc":55,"wamp":3,"mnf":155},
      {"t":18.05,"k":"0.225","mav":0.92,"rms":1.15,"sd":1.15,"var":1.32,"wl":0.00156,"iemg":0.00225,"ssc":90,"zc":44,"wamp":3,"mnf":162},
      {"t":18.55,"k":"0.225","mav":0.87,"rms":1.09,"sd":1.09,"var":1.19,"wl":0.00152,"iemg":0.00213,"ssc":83,"zc":57,"wamp":0,"mnf":146},
      {"t":19.05,"k":"0.225","mav":0.88,"rms":1.1,"sd":1.1,"var":1.21,"wl":0.00149,"iemg":0.00216,"ssc":96,"zc":49,"wamp":1,"mnf":152},
      {"t":19.55,"k":"0.225","mav":1.05,"rms":1.31,"sd":1.31,"var":1.72,"wl":0.00168,"iemg":0.00257,"ssc":81,"zc":52,"wamp":0,"mnf":145},
      {"t":20.05,"k":"0.225","mav":1.12,"rms":1.4,"sd":1.4,"var":1.96,"wl":0.00172,"iemg":0.00274,"ssc":88,"zc":60,"wamp":2,"mnf":158},
      {"t":20.55,"k":"0.225","mav":1.14,"rms":1.43,"sd":1.43,"var":2.04,"wl":0.00189,"iemg":0.00279,"ssc":92,"zc":47,"wamp":1,"mnf":141},
      {"t":21.05,"k":"0.225","mav":1.12,"rms":1.4,"sd":1.4,"var":1.96,"wl":0.00188,"iemg":0.00274,"ssc":85,"zc":54,"wamp":3,"mnf":155},
      {"t":21.55,"k":"0.225","mav":1.25,"rms":1.56,"sd":1.56,"var":2.43,"wl":0.00218,"iemg":0.00306,"ssc":79,"zc":45,"wamp":7,"mnf":149},
      {"t":22.05,"k":"0.225","mav":1.12,"rms":1.4,"sd":1.4,"var":1.96,"wl":0.00205,"iemg":0.00274,"ssc":93,"zc":59,"wamp":8,"mnf":163},
      {"t":22.55,"k":"0.225","mav":1.0,"rms":1.25,"sd":1.25,"var":1.56,"wl":0.00167,"iemg":0.00245,"ssc":87,"zc":50,"wamp":2,"mnf":146},
      {"t":23.05,"k":"0.225","mav":0.97,"rms":1.21,"sd":1.21,"var":1.46,"wl":0.00158,"iemg":0.00238,"ssc":82,"zc":48,"wamp":0,"mnf":150},
      {"t":23.55,"k":"0.225","mav":0.86,"rms":1.08,"sd":1.08,"var":1.17,"wl":0.00146,"iemg":0.00211,"ssc":95,"zc":57,"wamp":1,"mnf":156},
      {"t":24.05,"k":"0.225","mav":0.88,"rms":1.1,"sd":1.1,"var":1.21,"wl":0.00151,"iemg":0.00216,"ssc":86,"zc":52,"wamp":2,"mnf":143},
      {"t":24.55,"k":"0.225","mav":0.9,"rms":1.13,"sd":1.13,"var":1.28,"wl":0.00136,"iemg":0.00221,"ssc":80,"zc":44,"wamp":2,"mnf":154},
      {"t":25.05,"k":"0.225","mav":0.84,"rms":1.05,"sd":1.05,"var":1.1,"wl":0.00137,"iemg":0.00206,"ssc":92,"zc":55,"wamp":1,"mnf":139},
      {"t":25.55,"k":"0.225","mav":0.8,"rms":1.0,"sd":1.0,"var":1.0,"wl":0.00121,"iemg":0.00196,"ssc":89,"zc":49,"wamp":0,"mnf":160},
      {"t":26.05,"k":"0.225","mav":0.7,"rms":0.88,"sd":0.88,"var":0.77,"wl":0.0012,"iemg":0.00172,"ssc":84,"zc":60,"wamp":0,"mnf":148},
      {"t":26.55,"k":"0.225","mav":0.67,"rms":0.84,"sd":0.84,"var":0.71,"wl":0.0011,"iemg":0.00164,"ssc":96,"zc":46,"wamp":0,"mnf":150},
      {"t":27.05,"k":"0.225","mav":0.9,"rms":1.13,"sd":1.13,"var":1.28,"wl":0.00137,"iemg":0.00221,"ssc":81,"zc":53,"wamp":0,"mnf":130},
      {"t":27.55,"k":"0.225","mav":1.06,"rms":1.33,"sd":1.33,"var":1.77,"wl":0.00146,"iemg":0.0026,"ssc":88,"zc":51,"wamp":0,"mnf":141},
      {"t":28.05,"k":"0.225","mav":1.06,"rms":1.33,"sd":1.33,"var":1.77,"wl":0.00163,"iemg":0.0026,"ssc":83,"zc":45,"wamp":1,"mnf":148},
      {"t":28.55,"k":"0.225","mav":1.14,"rms":1.43,"sd":1.43,"var":2.04,"wl":0.00162,"iemg":0.00279,"ssc":94,"zc":58,"wamp":2,"mnf":155},
      {"t":29.05,"k":"0.225","mav":1.18,"rms":1.48,"sd":1.48,"var":2.19,"wl":0.00179,"iemg":0.00289,"ssc":87,"zc":50,"wamp":1,"mnf":137},
      {"t":29.55,"k":"0.225","mav":1.1,"rms":1.38,"sd":1.38,"var":1.9,"wl":0.00177,"iemg":0.0027,"ssc":80,"zc":48,"wamp":3,"mnf":151},
      {"t":30.05,"k":"0.225","mav":1.1,"rms":1.38,"sd":1.38,"var":1.9,"wl":0.00188,"iemg":0.0027,"ssc":91,"zc":56,"wamp":3,"mnf":158},
      {"t":30.55,"k":"0.225","mav":1.03,"rms":1.29,"sd":1.29,"var":1.66,"wl":0.00172,"iemg":0.00252,"ssc":86,"zc":43,"wamp":3,"mnf":145},
      {"t":31.05,"k":"0.225","mav":1.02,"rms":1.28,"sd":1.28,"var":1.64,"wl":0.00173,"iemg":0.0025,"ssc":93,"zc":54,"wamp":2,"mnf":148},
      {"t":31.55,"k":"0.225","mav":1.01,"rms":1.26,"sd":1.26,"var":1.59,"wl":0.00157,"iemg":0.00247,"ssc":82,"zc":52,"wamp":0,"mnf":155},
      {"t":32.05,"k":"0.225","mav":0.94,"rms":1.18,"sd":1.18,"var":1.39,"wl":0.00157,"iemg":0.0023,"ssc":89,"zc":47,"wamp":0,"mnf":138},
      {"t":32.55,"k":"0.225","mav":0.87,"rms":1.09,"sd":1.09,"var":1.19,"wl":0.00142,"iemg":0.00213,"ssc":84,"zc":58,"wamp":0,"mnf":147},
      {"t":33.05,"k":"0.225","mav":0.85,"rms":1.06,"sd":1.06,"var":1.12,"wl":0.00142,"iemg":0.00208,"ssc":95,"zc":50,"wamp":0,"mnf":156},
      {"t":33.55,"k":"0.225","mav":0.8,"rms":1.0,"sd":1.0,"var":1.0,"wl":0.00128,"iemg":0.00196,"ssc":80,"zc":45,"wamp":0,"mnf":143},
      {"t":34.05,"k":"0.225","mav":0.83,"rms":1.04,"sd":1.04,"var":1.08,"wl":0.00134,"iemg":0.00203,"ssc":90,"zc":55,"wamp":0,"mnf":150},
      {"t":34.55,"k":"0.225","mav":0.9,"rms":1.13,"sd":1.13,"var":1.28,"wl":0.00137,"iemg":0.00221,"ssc":85,"zc":49,"wamp":2,"mnf":141},
      {"t":35.05,"k":"0.225","mav":1.02,"rms":1.28,"sd":1.28,"var":1.64,"wl":0.00158,"iemg":0.0025,"ssc":93,"zc":53,"wamp":2,"mnf":149},
      {"t":35.55,"k":"0.225","mav":1.08,"rms":1.35,"sd":1.35,"var":1.82,"wl":0.00163,"iemg":0.00265,"ssc":82,"zc":44,"wamp":3,"mnf":134},
      {"t":36.05,"k":"0.225","mav":1.1,"rms":1.38,"sd":1.38,"var":1.9,"wl":0.00182,"iemg":0.0027,"ssc":88,"zc":57,"wamp":4,"mnf":155},
      {"t":36.55,"k":"0.225","mav":1.05,"rms":1.31,"sd":1.31,"var":1.72,"wl":0.00186,"iemg":0.00257,"ssc":81,"zc":50,"wamp":5,"mnf":139},
      {"t":37.05,"k":"0.225","mav":1.15,"rms":1.44,"sd":1.44,"var":2.07,"wl":0.00207,"iemg":0.00282,"ssc":90,"zc":47,"wamp":6,"mnf":145},
      {"t":37.55,"k":"0.225","mav":1.22,"rms":1.53,"sd":1.53,"var":2.34,"wl":0.00196,"iemg":0.00299,"ssc":78,"zc":55,"wamp":5,"mnf":150},
      {"t":38.05,"k":"0.225","mav":1.12,"rms":1.4,"sd":1.4,"var":1.96,"wl":0.00187,"iemg":0.00274,"ssc":84,"zc":49,"wamp":3,"mnf":140},

      {"t":0.55,"k":"0.3","mav":0.9,"rms":1.13,"sd":1.13,"var":1.28,"wl":0.00193,"iemg":0.00293,"ssc":124,"zc":80,"wamp":2,"mnf":152},
      {"t":1.05,"k":"0.3","mav":0.9,"rms":1.13,"sd":1.13,"var":1.28,"wl":0.00189,"iemg":0.00293,"ssc":112,"zc":70,"wamp":1,"mnf":158},
      {"t":1.55,"k":"0.3","mav":0.84,"rms":1.05,"sd":1.05,"var":1.1,"wl":0.00191,"iemg":0.00273,"ssc":128,"zc":84,"wamp":0,"mnf":145},
      {"t":2.05,"k":"0.3","mav":0.79,"rms":0.99,"sd":0.99,"var":0.98,"wl":0.00177,"iemg":0.00257,"ssc":120,"zc":76,"wamp":3,"mnf":156},
      {"t":2.55,"k":"0.3","mav":0.81,"rms":1.01,"sd":1.01,"var":1.02,"wl":0.00199,"iemg":0.00263,"ssc":109,"zc":66,"wamp":3,"mnf":148},
      {"t":3.05,"k":"0.3","mav":0.98,"rms":1.23,"sd":1.23,"var":1.51,"wl":0.0022,"iemg":0.00319,"ssc":126,"zc":78,"wamp":3,"mnf":154},
      {"t":3.55,"k":"0.3","mav":1.12,"rms":1.4,"sd":1.4,"var":1.96,"wl":0.00268,"iemg":0.00364,"ssc":118,"zc":82,"wamp":7,"mnf":160},
      {"t":4.05,"k":"0.3","mav":1.26,"rms":1.58,"sd":1.58,"var":2.5,"wl":0.00278,"iemg":0.0041,"ssc":113,"zc":70,"wamp":8,"mnf":146},
      {"t":4.55,"k":"0.3","mav":1.16,"rms":1.45,"sd":1.45,"var":2.1,"wl":0.00275,"iemg":0.00377,"ssc":130,"zc":86,"wamp":7,"mnf":155},
      {"t":5.05,"k":"0.3","mav":1.1,"rms":1.38,"sd":1.38,"var":1.9,"wl":0.00262,"iemg":0.00358,"ssc":107,"zc":75,"wamp":5,"mnf":149},
      {"t":5.55,"k":"0.3","mav":1.1,"rms":1.38,"sd":1.38,"var":1.9,"wl":0.00271,"iemg":0.00358,"ssc":121,"zc":80,"wamp":6,"mnf":157},
      {"t":6.05,"k":"0.3","mav":1.08,"rms":1.35,"sd":1.35,"var":1.82,"wl":0.00247,"iemg":0.00351,"ssc":116,"zc":68,"wamp":5,"mnf":143},
      {"t":6.55,"k":"0.3","mav":0.98,"rms":1.23,"sd":1.23,"var":1.51,"wl":0.00236,"iemg":0.00319,"ssc":125,"zc":79,"wamp":6,"mnf":152},
      {"t":7.05,"k":"0.3","mav":0.88,"rms":1.1,"sd":1.1,"var":1.21,"wl":0.00216,"iemg":0.00286,"ssc":110,"zc":84,"wamp":3,"mnf":157},
      {"t":7.55,"k":"0.3","mav":0.8,"rms":1.0,"sd":1.0,"var":1.0,"wl":0.00204,"iemg":0.0026,"ssc":119,"zc":72,"wamp":0,"mnf":147},
      {"t":8.05,"k":"0.3","mav":0.75,"rms":0.94,"sd":0.94,"var":0.88,"wl":0.00166,"iemg":0.00244,"ssc":108,"zc":78,"wamp":0,"mnf":153},
      {"t":8.55,"k":"0.3","mav":0.77,"rms":0.96,"sd":0.96,"var":0.92,"wl":0.00173,"iemg":0.0025,"ssc":124,"zc":66,"wamp":0,"mnf":160},
      {"t":9.05,"k":"0.3","mav":0.82,"rms":1.03,"sd":1.03,"var":1.06,"wl":0.00179,"iemg":0.00267,"ssc":114,"zc":82,"wamp":2,"mnf":145},
      {"t":9.55,"k":"0.3","mav":0.87,"rms":1.09,"sd":1.09,"var":1.19,"wl":0.00196,"iemg":0.00283,"ssc":130,"zc":76,"wamp":1,"mnf":151},
      {"t":10.05,"k":"0.3","mav":0.98,"rms":1.23,"sd":1.23,"var":1.51,"wl":0.00215,"iemg":0.00319,"ssc":111,"zc":74,"wamp":6,"mnf":156},
      {"t":10.55,"k":"0.3","mav":1.15,"rms":1.44,"sd":1.44,"var":2.07,"wl":0.00238,"iemg":0.00374,"ssc":105,"zc":68,"wamp":12,"mnf":162},
      {"t":11.05,"k":"0.3","mav":1.08,"rms":1.35,"sd":1.35,"var":1.82,"wl":0.00213,"iemg":0.00351,"ssc":99,"zc":66,"wamp":6,"mnf":146},
      {"t":11.55,"k":"0.3","mav":1.06,"rms":1.33,"sd":1.33,"var":1.77,"wl":0.00226,"iemg":0.00345,"ssc":112,"zc":74,"wamp":3,"mnf":150},
      {"t":12.05,"k":"0.3","mav":1.18,"rms":1.48,"sd":1.48,"var":2.19,"wl":0.00241,"iemg":0.00384,"ssc":118,"zc":60,"wamp":9,"mnf":144},
      {"t":12.55,"k":"0.3","mav":1.37,"rms":1.65,"sd":1.65,"var":2.72,"wl":0.00288,"iemg":0.00445,"ssc":106,"zc":68,"wamp":17,"mnf":155},
      {"t":13.05,"k":"0.3","mav":1.36,"rms":1.64,"sd":1.64,"var":2.69,"wl":0.00294,"iemg":0.00442,"ssc":121,"zc":62,"wamp":14,"mnf":149},
      {"t":13.55,"k":"0.3","mav":1.15,"rms":1.44,"sd":1.44,"var":2.07,"wl":0.00278,"iemg":0.00374,"ssc":109,"zc":74,"wamp":8,"mnf":154},
      {"t":14.05,"k":"0.3","mav":0.92,"rms":1.15,"sd":1.15,"var":1.32,"wl":0.00239,"iemg":0.00299,"ssc":116,"zc":64,"wamp":4,"mnf":145},
      {"t":14.55,"k":"0.3","mav":0.85,"rms":1.06,"sd":1.06,"var":1.12,"wl":0.0022,"iemg":0.00276,"ssc":124,"zc":70,"wamp":3,"mnf":158},
      {"t":15.05,"k":"0.3","mav":0.79,"rms":0.99,"sd":0.99,"var":0.98,"wl":0.00193,"iemg":0.00257,"ssc":105,"zc":62,"wamp":1,"mnf":150},
      {"t":15.55,"k":"0.3","mav":0.8,"rms":1.0,"sd":1.0,"var":1.0,"wl":0.00191,"iemg":0.0026,"ssc":117,"zc":72,"wamp":2,"mnf":147},
      {"t":16.05,"k":"0.3","mav":0.86,"rms":1.08,"sd":1.08,"var":1.17,"wl":0.00175,"iemg":0.0028,"ssc":112,"zc":66,"wamp":1,"mnf":154},
      {"t":16.55,"k":"0.3","mav":0.94,"rms":1.18,"sd":1.18,"var":1.39,"wl":0.00177,"iemg":0.00306,"ssc":119,"zc":76,"wamp":0,"mnf":150},
      {"t":17.05,"k":"0.3","mav":0.92,"rms":1.15,"sd":1.15,"var":1.32,"wl":0.00171,"iemg":0.00299,"ssc":106,"zc":64,"wamp":2,"mnf":143},
      {"t":17.55,"k":"0.3","mav":0.95,"rms":1.19,"sd":1.19,"var":1.42,"wl":0.00196,"iemg":0.00309,"ssc":125,"zc":70,"wamp":4,"mnf":155},
      {"t":18.05,"k":"0.3","mav":0.98,"rms":1.23,"sd":1.23,"var":1.51,"wl":0.00204,"iemg":0.00319,"ssc":115,"zc":74,"wamp":4,"mnf":159},
      {"t":18.55,"k":"0.3","mav":0.88,"rms":1.1,"sd":1.1,"var":1.21,"wl":0.00171,"iemg":0.00286,"ssc":109,"zc":66,"wamp":2,"mnf":148},
      {"t":19.05,"k":"0.3","mav":0.9,"rms":1.13,"sd":1.13,"var":1.28,"wl":0.00186,"iemg":0.00293,"ssc":128,"zc":80,"wamp":2,"mnf":152},
      {"t":19.55,"k":"0.3","mav":1.02,"rms":1.28,"sd":1.28,"var":1.64,"wl":0.00191,"iemg":0.00332,"ssc":112,"zc":72,"wamp":1,"mnf":147},
      {"t":20.05,"k":"0.3","mav":1.12,"rms":1.4,"sd":1.4,"var":1.96,"wl":0.00216,"iemg":0.00364,"ssc":119,"zc":68,"wamp":3,"mnf":156},
      {"t":20.55,"k":"0.3","mav":1.13,"rms":1.41,"sd":1.41,"var":1.99,"wl":0.00226,"iemg":0.00367,"ssc":123,"zc":78,"wamp":4,"mnf":144},
      {"t":21.05,"k":"0.3","mav":1.12,"rms":1.4,"sd":1.4,"var":1.96,"wl":0.00247,"iemg":0.00364,"ssc":110,"zc":64,"wamp":5,"mnf":153},
      {"t":21.55,"k":"0.3","mav":1.25,"rms":1.56,"sd":1.56,"var":2.43,"wl":0.00272,"iemg":0.00406,"ssc":127,"zc":76,"wamp":12,"mnf":150},
      {"t":22.05,"k":"0.3","mav":1.2,"rms":1.5,"sd":1.5,"var":2.25,"wl":0.00265,"iemg":0.0039,"ssc":131,"zc":80,"wamp":13,"mnf":160},
      {"t":22.55,"k":"0.3","mav":1.02,"rms":1.28,"sd":1.28,"var":1.64,"wl":0.00228,"iemg":0.00332,"ssc":120,"zc":72,"wamp":5,"mnf":147},
      {"t":23.05,"k":"0.3","mav":0.96,"rms":1.2,"sd":1.2,"var":1.44,"wl":0.00212,"iemg":0.00312,"ssc":114,"zc":66,"wamp":2,"mnf":151},
      {"t":23.55,"k":"0.3","mav":0.9,"rms":1.13,"sd":1.13,"var":1.28,"wl":0.00214,"iemg":0.00293,"ssc":125,"zc":78,"wamp":1,"mnf":155},
      {"t":24.05,"k":"0.3","mav":0.88,"rms":1.1,"sd":1.1,"var":1.21,"wl":0.00198,"iemg":0.00286,"ssc":108,"zc":70,"wamp":3,"mnf":146},
      {"t":24.55,"k":"0.3","mav":0.91,"rms":1.14,"sd":1.14,"var":1.3,"wl":0.00197,"iemg":0.00296,"ssc":121,"zc":74,"wamp":4,"mnf":152},
      {"t":25.05,"k":"0.3","mav":0.84,"rms":1.05,"sd":1.05,"var":1.1,"wl":0.00178,"iemg":0.00273,"ssc":115,"zc":64,"wamp":2,"mnf":143},
      {"t":25.55,"k":"0.3","mav":0.8,"rms":1.0,"sd":1.0,"var":1.0,"wl":0.00178,"iemg":0.0026,"ssc":110,"zc":80,"wamp":1,"mnf":157},
      {"t":26.05,"k":"0.3","mav":0.72,"rms":0.9,"sd":0.9,"var":0.81,"wl":0.00156,"iemg":0.00234,"ssc":124,"zc":68,"wamp":0,"mnf":149},
      {"t":26.55,"k":"0.3","mav":0.7,"rms":0.88,"sd":0.88,"var":0.77,"wl":0.00166,"iemg":0.00228,"ssc":129,"zc":72,"wamp":0,"mnf":150},
      {"t":27.05,"k":"0.3","mav":0.88,"rms":1.1,"sd":1.1,"var":1.21,"wl":0.00184,"iemg":0.00286,"ssc":116,"zc":62,"wamp":0,"mnf":134},
      {"t":27.55,"k":"0.3","mav":1.04,"rms":1.3,"sd":1.3,"var":1.69,"wl":0.00208,"iemg":0.00338,"ssc":109,"zc":70,"wamp":0,"mnf":143},
      {"t":28.05,"k":"0.3","mav":1.08,"rms":1.35,"sd":1.35,"var":1.82,"wl":0.0021,"iemg":0.00351,"ssc":121,"zc":66,"wamp":2,"mnf":149},
      {"t":28.55,"k":"0.3","mav":1.15,"rms":1.44,"sd":1.44,"var":2.07,"wl":0.00228,"iemg":0.00374,"ssc":106,"zc":76,"wamp":3,"mnf":153},
      {"t":29.05,"k":"0.3","mav":1.16,"rms":1.45,"sd":1.45,"var":2.1,"wl":0.00236,"iemg":0.00377,"ssc":118,"zc":70,"wamp":3,"mnf":140},
      {"t":29.55,"k":"0.3","mav":1.1,"rms":1.38,"sd":1.38,"var":1.9,"wl":0.00254,"iemg":0.00358,"ssc":113,"zc":64,"wamp":5,"mnf":150},
      {"t":30.05,"k":"0.3","mav":1.09,"rms":1.36,"sd":1.36,"var":1.85,"wl":0.00248,"iemg":0.00354,"ssc":123,"zc":74,"wamp":6,"mnf":156},
      {"t":30.55,"k":"0.3","mav":1.05,"rms":1.31,"sd":1.31,"var":1.72,"wl":0.00245,"iemg":0.00341,"ssc":108,"zc":72,"wamp":6,"mnf":146},
      {"t":31.05,"k":"0.3","mav":1.03,"rms":1.29,"sd":1.29,"var":1.66,"wl":0.00221,"iemg":0.00335,"ssc":116,"zc":60,"wamp":5,"mnf":149},
      {"t":31.55,"k":"0.3","mav":1.0,"rms":1.25,"sd":1.25,"var":1.56,"wl":0.00212,"iemg":0.00325,"ssc":122,"zc":70,"wamp":1,"mnf":153},
      {"t":32.05,"k":"0.3","mav":0.93,"rms":1.16,"sd":1.16,"var":1.35,"wl":0.0019,"iemg":0.00302,"ssc":110,"zc":76,"wamp":1,"mnf":141},
      {"t":32.55,"k":"0.3","mav":0.88,"rms":1.1,"sd":1.1,"var":1.21,"wl":0.00188,"iemg":0.00286,"ssc":117,"zc":66,"wamp":1,"mnf":148},
      {"t":33.05,"k":"0.3","mav":0.84,"rms":1.05,"sd":1.05,"var":1.1,"wl":0.00173,"iemg":0.00273,"ssc":107,"zc":72,"wamp":0,"mnf":154},
      {"t":33.55,"k":"0.3","mav":0.81,"rms":1.01,"sd":1.01,"var":1.02,"wl":0.00172,"iemg":0.00263,"ssc":121,"zc":62,"wamp":0,"mnf":144},
      {"t":34.05,"k":"0.3","mav":0.84,"rms":1.05,"sd":1.05,"var":1.1,"wl":0.00162,"iemg":0.00273,"ssc":113,"zc":74,"wamp":0,"mnf":150},
      {"t":34.55,"k":"0.3","mav":0.9,"rms":1.13,"sd":1.13,"var":1.28,"wl":0.00185,"iemg":0.00293,"ssc":109,"zc":68,"wamp":4,"mnf":143},
      {"t":35.05,"k":"0.3","mav":1.01,"rms":1.26,"sd":1.26,"var":1.59,"wl":0.00198,"iemg":0.00328,"ssc":122,"zc":64,"wamp":5,"mnf":150},
      {"t":35.55,"k":"0.3","mav":1.09,"rms":1.36,"sd":1.36,"var":1.85,"wl":0.00224,"iemg":0.00354,"ssc":106,"zc":74,"wamp":5,"mnf":137},
      {"t":36.05,"k":"0.3","mav":1.11,"rms":1.39,"sd":1.39,"var":1.93,"wl":0.00233,"iemg":0.00361,"ssc":116,"zc":62,"wamp":7,"mnf":153},
      {"t":36.55,"k":"0.3","mav":1.07,"rms":1.34,"sd":1.34,"var":1.8,"wl":0.00258,"iemg":0.00348,"ssc":112,"zc":70,"wamp":9,"mnf":141},
      {"t":37.05,"k":"0.3","mav":1.15,"rms":1.44,"sd":1.44,"var":2.07,"wl":0.00266,"iemg":0.00374,"ssc":103,"zc":64,"wamp":10,"mnf":146},
      {"t":37.55,"k":"0.3","mav":1.22,"rms":1.53,"sd":1.53,"var":2.34,"wl":0.00268,"iemg":0.00397,"ssc":119,"zc":72,"wamp":8,"mnf":150},
      {"t":38.05,"k":"0.3","mav":1.13,"rms":1.41,"sd":1.41,"var":1.99,"wl":0.00244,"iemg":0.00367,"ssc":115,"zc":66,"wamp":4,"mnf":142}
    ]
  },
  "resolve": {"scale": {"color": "shared"}, "legend": {"color": "shared"}},
  "spacing": 1479,
  "bounds": "flush",
  "hconcat": [
    {
      "spacing": 254,
      "bounds": "flush",
      "resolve": {"scale": {"color": "shared"}, "legend": {"color": "shared"}},
      "vconcat": [
        {
          "width": 1036, "height": 347,
          "title": {"text": "a", "offset": 75},
          "layer": [
            {
              "data": {"name": "act"},
              "mark": {"type": "line", "strokeWidth": 4.5, "clip": true},
              "encoding": {
                "x": {"field": "t", "type": "quantitative", "scale": {"domain": [-1.7, 40.16], "nice": false, "zero": false}, "axis": {"values": [0, 10, 20, 30, 40], "labels": false, "title": null}},
                "y": {"field": "act", "type": "quantitative", "scale": {"domain": [0.0157, 0.129], "nice": false, "zero": false}, "axis": {"values": [0.05, 0.1], "format": ".2f", "title": "ACT [r.u.]"}},
                "color": {"field": "k", "type": "nominal",
                  "scale": {"domain": ["angle", "act", "0.15", "0.225", "0.3"], "range": ["rgba(214,39,40,0.5)", "#9467bd", "#1f77b4", "#ff7f0e", "#2ca02c"]},
                  "legend": {"title": null, "orient": "none", "legendX": 1732, "legendY": 2997, "symbolType": "M-1.5,0H1.5",
                    "labelExpr": "datum.label == 'angle' ? 'elbow joint angle 𝜃' : datum.label == 'act' ? 'muscle activation' : 'segment length 𝑇 = ' + datum.label + '\u2009𝑠'"}}
              }
            },
            {
              "data": {"name": "angle"},
              "mark": {"type": "line", "strokeWidth": 6.5, "clip": true, "interpolate": "monotone"},
              "encoding": {
                "x": {"field": "t", "type": "quantitative", "axis": null},
                "y": {"field": "th", "type": "quantitative", "scale": {"domain": [-50.8, 37.8], "nice": false, "zero": false}, "axis": {"orient": "right", "values": [-50, 0], "labels": false, "title": null}},
                "color": {"field": "k", "type": "nominal", "scale": {"domain": ["angle", "act", "0.15", "0.225", "0.3"], "range": ["rgba(214,39,40,0.5)", "#9467bd", "#1f77b4", "#ff7f0e", "#2ca02c"]}}
              }
            }
          ],
          "resolve": {"scale": {"y": "independent"}, "axis": {"x": "independent"}}
        },
        {
          "width": 1036, "height": 347,
          "title": {"text": "b", "offset": 27},
          "layer": [
            {
              "data": {"name": "emg"},
              "mark": {"type": "line", "strokeWidth": 5, "clip": true},
              "encoding": {
                "x": {"field": "t", "type": "quantitative", "scale": {"domain": [-1.7, 40.16], "nice": false, "zero": false}, "axis": {"values": [0, 10, 20, 30, 40], "labels": false, "title": null}},
                "y": {"field": "rms", "type": "quantitative", "scale": {"domain": [0.57, 3.09], "nice": false, "zero": false}, "axis": {"values": [1, 2, 3], "title": "RMS [V]"}},
                "color": {"field": "k", "type": "nominal", "scale": {"domain": ["angle", "act", "0.15", "0.225", "0.3"], "range": ["rgba(214,39,40,0.5)", "#9467bd", "#1f77b4", "#ff7f0e", "#2ca02c"]}}
              }
            },
            {
              "data": {"name": "angle"},
              "mark": {"type": "line", "strokeWidth": 6.5, "clip": true, "interpolate": "monotone"},
              "encoding": {
                "x": {"field": "t", "type": "quantitative", "axis": {"orient": "top", "domain": false, "ticks": false, "labels": false, "title": "× 10⁻⁵"}},
                "y": {"field": "th", "type": "quantitative", "scale": {"domain": [-50.8, 37.8], "nice": false, "zero": false}, "axis": {"orient": "right", "values": [-50, 0], "labels": false, "title": null}},
                "color": {"field": "k", "type": "nominal", "scale": {"domain": ["angle", "act", "0.15", "0.225", "0.3"], "range": ["rgba(214,39,40,0.5)", "#9467bd", "#1f77b4", "#ff7f0e", "#2ca02c"]}}
              }
            }
          ],
          "resolve": {"scale": {"y": "independent"}, "axis": {"x": "independent"}}
        },
        {
          "width": 1036, "height": 347,
          "title": {"text": "c", "offset": 27},
          "layer": [
            {
              "data": {"name": "emg"},
              "mark": {"type": "line", "strokeWidth": 5, "clip": true},
              "encoding": {
                "x": {"field": "t", "type": "quantitative", "scale": {"domain": [-1.7, 40.16], "nice": false, "zero": false}, "axis": {"values": [0, 10, 20, 30, 40], "labels": false, "title": null}},
                "y": {"field": "mav", "type": "quantitative", "scale": {"domain": [0.478, 1.977], "nice": false, "zero": false}, "axis": {"values": [0.5, 1.0, 1.5], "format": ".1f", "title": "MAV [V]"}},
                "color": {"field": "k", "type": "nominal", "scale": {"domain": ["angle", "act", "0.15", "0.225", "0.3"], "range": ["rgba(214,39,40,0.5)", "#9467bd", "#1f77b4", "#ff7f0e", "#2ca02c"]}}
              }
            },
            {
              "data": {"name": "angle"},
              "mark": {"type": "line", "strokeWidth": 6.5, "clip": true, "interpolate": "monotone"},
              "encoding": {
                "x": {"field": "t", "type": "quantitative", "axis": {"orient": "top", "domain": false, "ticks": false, "labels": false, "title": "× 10⁻⁵"}},
                "y": {"field": "th", "type": "quantitative", "scale": {"domain": [-50.8, 37.8], "nice": false, "zero": false}, "axis": {"orient": "right", "values": [-50, 0], "labels": false, "title": null}},
                "color": {"field": "k", "type": "nominal", "scale": {"domain": ["angle", "act", "0.15", "0.225", "0.3"], "range": ["rgba(214,39,40,0.5)", "#9467bd", "#1f77b4", "#ff7f0e", "#2ca02c"]}}
              }
            }
          ],
          "resolve": {"scale": {"y": "independent"}, "axis": {"x": "independent"}}
        },
        {
          "width": 1036, "height": 347,
          "title": {"text": "d", "offset": 75},
          "layer": [
            {
              "data": {"name": "emg"},
              "mark": {"type": "line", "strokeWidth": 5, "clip": true},
              "encoding": {
                "x": {"field": "t", "type": "quantitative", "scale": {"domain": [-1.7, 40.16], "nice": false, "zero": false}, "axis": {"values": [0, 10, 20, 30, 40], "labels": false, "title": null}},
                "y": {"field": "wl", "type": "quantitative", "scale": {"domain": [0.00051, 0.0033], "nice": false, "zero": false}, "axis": {"values": [0.001, 0.002, 0.003], "format": ".3f", "title": "WL [V]"}},
                "color": {"field": "k", "type": "nominal", "scale": {"domain": ["angle", "act", "0.15", "0.225", "0.3"], "range": ["rgba(214,39,40,0.5)", "#9467bd", "#1f77b4", "#ff7f0e", "#2ca02c"]}}
              }
            },
            {
              "data": {"name": "angle"},
              "mark": {"type": "line", "strokeWidth": 6.5, "clip": true, "interpolate": "monotone"},
              "encoding": {
                "x": {"field": "t", "type": "quantitative", "axis": null},
                "y": {"field": "th", "type": "quantitative", "scale": {"domain": [-50.8, 37.8], "nice": false, "zero": false}, "axis": {"orient": "right", "values": [-50, 0], "labels": false, "title": null}},
                "color": {"field": "k", "type": "nominal", "scale": {"domain": ["angle", "act", "0.15", "0.225", "0.3"], "range": ["rgba(214,39,40,0.5)", "#9467bd", "#1f77b4", "#ff7f0e", "#2ca02c"]}}
              }
            }
          ],
          "resolve": {"scale": {"y": "independent"}, "axis": {"x": "independent"}}
        },
        {
          "width": 1036, "height": 347,
          "title": {"text": "e", "offset": 27},
          "layer": [
            {
              "data": {"name": "emg"},
              "mark": {"type": "line", "strokeWidth": 5, "clip": true},
              "encoding": {
                "x": {"field": "t", "type": "quantitative", "scale": {"domain": [-1.7, 40.16], "nice": false, "zero": false}, "axis": {"values": [0, 10, 20, 30, 40], "labels": false, "title": null}},
                "y": {"field": "sd", "type": "quantitative", "scale": {"domain": [0.6, 3.12], "nice": false, "zero": false}, "axis": {"values": [1, 2, 3], "title": "SD [V]"}},
                "color": {"field": "k", "type": "nominal", "scale": {"domain": ["angle", "act", "0.15", "0.225", "0.3"], "range": ["rgba(214,39,40,0.5)", "#9467bd", "#1f77b4", "#ff7f0e", "#2ca02c"]}}
              }
            },
            {
              "data": {"name": "angle"},
              "mark": {"type": "line", "strokeWidth": 6.5, "clip": true, "interpolate": "monotone"},
              "encoding": {
                "x": {"field": "t", "type": "quantitative", "axis": {"orient": "top", "domain": false, "ticks": false, "labels": false, "title": "× 10⁻⁵"}},
                "y": {"field": "th", "type": "quantitative", "scale": {"domain": [-50.8, 37.8], "nice": false, "zero": false}, "axis": {"orient": "right", "values": [-50, 0], "labels": false, "title": null}},
                "color": {"field": "k", "type": "nominal", "scale": {"domain": ["angle", "act", "0.15", "0.225", "0.3"], "range": ["rgba(214,39,40,0.5)", "#9467bd", "#1f77b4", "#ff7f0e", "#2ca02c"]}}
              }
            }
          ],
          "resolve": {"scale": {"y": "independent"}, "axis": {"x": "independent"}}
        },
        {
          "width": 1036, "height": 347,
          "title": {"text": "f", "offset": 27},
          "layer": [
            {
              "data": {"name": "emg"},
              "mark": {"type": "line", "strokeWidth": 5, "clip": true},
              "encoding": {
                "x": {"field": "t", "type": "quantitative", "scale": {"domain": [-1.7, 40.16], "nice": false, "zero": false}, "axis": {"values": [0, 10, 20, 30, 40], "title": "time [s]"}},
                "y": {"field": "var", "type": "quantitative", "scale": {"domain": [0.02, 9.4], "nice": false, "zero": false}, "axis": {"values": [2.5, 5, 7.5], "format": ".1f", "title": "VAR [V]"}},
                "color": {"field": "k", "type": "nominal", "scale": {"domain": ["angle", "act", "0.15", "0.225", "0.3"], "range": ["rgba(214,39,40,0.5)", "#9467bd", "#1f77b4", "#ff7f0e", "#2ca02c"]}}
              }
            },
            {
              "data": {"name": "angle"},
              "mark": {"type": "line", "strokeWidth": 6.5, "clip": true, "interpolate": "monotone"},
              "encoding": {
                "x": {"field": "t", "type": "quantitative", "axis": {"orient": "top", "domain": false, "ticks": false, "labels": false, "title": "× 10⁻¹⁰"}},
                "y": {"field": "th", "type": "quantitative", "scale": {"domain": [-50.8, 37.8], "nice": false, "zero": false}, "axis": {"orient": "right", "values": [-50, 0], "title": "𝜃 [°]"}},
                "color": {"field": "k", "type": "nominal", "scale": {"domain": ["angle", "act", "0.15", "0.225", "0.3"], "range": ["rgba(214,39,40,0.5)", "#9467bd", "#1f77b4", "#ff7f0e", "#2ca02c"]}}
              }
            }
          ],
          "resolve": {"scale": {"y": "independent"}, "axis": {"x": "independent"}}
        }
      ]
    },
    {
      "spacing": 254,
      "bounds": "flush",
      "resolve": {"scale": {"color": "shared"}, "legend": {"color": "shared"}},
      "vconcat": [
        {
          "width": 1036, "height": 347,
          "title": {"text": "g", "offset": 57},
          "layer": [
            {
              "data": {"name": "emg"},
              "mark": {"type": "line", "strokeWidth": 5, "clip": true},
              "encoding": {
                "x": {"field": "t", "type": "quantitative", "scale": {"domain": [-1.7, 40.16], "nice": false, "zero": false}, "axis": {"values": [0, 10, 20, 30, 40], "labels": false, "title": null}},
                "y": {"field": "ssc", "type": "quantitative", "scale": {"domain": [32, 143], "nice": false, "zero": false}, "axis": {"values": [50, 100], "title": "SSC [count/𝑇]"}},
                "color": {"field": "k", "type": "nominal", "scale": {"domain": ["angle", "act", "0.15", "0.225", "0.3"], "range": ["rgba(214,39,40,0.5)", "#9467bd", "#1f77b4", "#ff7f0e", "#2ca02c"]}}
              }
            },
            {
              "data": {"name": "angle"},
              "mark": {"type": "line", "strokeWidth": 6.5, "clip": true, "interpolate": "monotone"},
              "encoding": {
                "x": {"field": "t", "type": "quantitative", "axis": null},
                "y": {"field": "th", "type": "quantitative", "scale": {"domain": [-50.8, 37.8], "nice": false, "zero": false}, "axis": {"orient": "right", "values": [-50, 0], "title": "𝜃 [°]"}},
                "color": {"field": "k", "type": "nominal", "scale": {"domain": ["angle", "act", "0.15", "0.225", "0.3"], "range": ["rgba(214,39,40,0.5)", "#9467bd", "#1f77b4", "#ff7f0e", "#2ca02c"]}}
              }
            }
          ],
          "resolve": {"scale": {"y": "independent"}, "axis": {"x": "independent"}}
        },
        {
          "width": 1036, "height": 347,
          "title": {"text": "h", "offset": 74},
          "layer": [
            {
              "data": {"name": "emg"},
              "mark": {"type": "line", "strokeWidth": 5, "clip": true},
              "encoding": {
                "x": {"field": "t", "type": "quantitative", "scale": {"domain": [-1.7, 40.16], "nice": false, "zero": false}, "axis": {"values": [0, 10, 20, 30, 40], "labels": false, "title": null}},
                "y": {"field": "zc", "type": "quantitative", "scale": {"domain": [18, 91.5], "nice": false, "zero": false}, "axis": {"values": [25, 50, 75], "title": "ZC [count/𝑇]"}},
                "color": {"field": "k", "type": "nominal", "scale": {"domain": ["angle", "act", "0.15", "0.225", "0.3"], "range": ["rgba(214,39,40,0.5)", "#9467bd", "#1f77b4", "#ff7f0e", "#2ca02c"]}}
              }
            },
            {
              "data": {"name": "angle"},
              "mark": {"type": "line", "strokeWidth": 6.5, "clip": true, "interpolate": "monotone"},
              "encoding": {
                "x": {"field": "t", "type": "quantitative", "axis": null},
                "y": {"field": "th", "type": "quantitative", "scale": {"domain": [-50.8, 37.8], "nice": false, "zero": false}, "axis": {"orient": "right", "values": [-50, 0], "title": "𝜃 [°]"}},
                "color": {"field": "k", "type": "nominal", "scale": {"domain": ["angle", "act", "0.15", "0.225", "0.3"], "range": ["rgba(214,39,40,0.5)", "#9467bd", "#1f77b4", "#ff7f0e", "#2ca02c"]}}
              }
            }
          ],
          "resolve": {"scale": {"y": "independent"}, "axis": {"x": "independent"}}
        },
        {
          "width": 1036, "height": 347,
          "title": {"text": "i", "offset": 24},
          "layer": [
            {
              "data": {"name": "emg"},
              "mark": {"type": "line", "strokeWidth": 5, "clip": true},
              "encoding": {
                "x": {"field": "t", "type": "quantitative", "scale": {"domain": [-1.7, 40.16], "nice": false, "zero": false}, "axis": {"values": [0, 10, 20, 30, 40], "labels": false, "title": null}},
                "y": {"field": "wamp", "type": "quantitative", "scale": {"domain": [-1, 21], "nice": false, "zero": false}, "axis": {"values": [0, 10, 20], "title": "WAMP [count/𝑇]"}},
                "color": {"field": "k", "type": "nominal", "scale": {"domain": ["angle", "act", "0.15", "0.225", "0.3"], "range": ["rgba(214,39,40,0.5)", "#9467bd", "#1f77b4", "#ff7f0e", "#2ca02c"]}}
              }
            },
            {
              "data": {"name": "angle"},
              "mark": {"type": "line", "strokeWidth": 6.5, "clip": true, "interpolate": "monotone"},
              "encoding": {
                "x": {"field": "t", "type": "quantitative", "axis": null},
                "y": {"field": "th", "type": "quantitative", "scale": {"domain": [-50.8, 37.8], "nice": false, "zero": false}, "axis": {"orient": "right", "values": [-50, 0], "title": "𝜃 [°]"}},
                "color": {"field": "k", "type": "nominal", "scale": {"domain": ["angle", "act", "0.15", "0.225", "0.3"], "range": ["rgba(214,39,40,0.5)", "#9467bd", "#1f77b4", "#ff7f0e", "#2ca02c"]}}
              }
            }
          ],
          "resolve": {"scale": {"y": "independent"}, "axis": {"x": "independent"}}
        },
        {
          "width": 1036, "height": 347,
          "title": {"text": "j", "offset": 75},
          "layer": [
            {
              "data": {"name": "emg"},
              "mark": {"type": "line", "strokeWidth": 5, "clip": true},
              "encoding": {
                "x": {"field": "t", "type": "quantitative", "scale": {"domain": [-1.7, 40.16], "nice": false, "zero": false}, "axis": {"values": [0, 10, 20, 30, 40], "labels": false, "title": null}},
                "y": {"field": "iemg", "type": "quantitative", "scale": {"domain": [0.0007, 0.00564], "nice": false, "zero": false}, "axis": {"values": [0.002, 0.004], "format": ".3f", "title": "IEMG [V]"}},
                "color": {"field": "k", "type": "nominal", "scale": {"domain": ["angle", "act", "0.15", "0.225", "0.3"], "range": ["rgba(214,39,40,0.5)", "#9467bd", "#1f77b4", "#ff7f0e", "#2ca02c"]}}
              }
            },
            {
              "data": {"name": "angle"},
              "mark": {"type": "line", "strokeWidth": 6.5, "clip": true, "interpolate": "monotone"},
              "encoding": {
                "x": {"field": "t", "type": "quantitative", "axis": null},
                "y": {"field": "th", "type": "quantitative", "scale": {"domain": [-50.8, 37.8], "nice": false, "zero": false}, "axis": {"orient": "right", "values": [-50, 0], "title": "𝜃 [°]"}},
                "color": {"field": "k", "type": "nominal", "scale": {"domain": ["angle", "act", "0.15", "0.225", "0.3"], "range": ["rgba(214,39,40,0.5)", "#9467bd", "#1f77b4", "#ff7f0e", "#2ca02c"]}}
              }
            }
          ],
          "resolve": {"scale": {"y": "independent"}, "axis": {"x": "independent"}}
        },
        {
          "width": 1036, "height": 347,
          "title": {"text": "k", "offset": 75},
          "layer": [
            {
              "data": {"name": "emg"},
              "mark": {"type": "line", "strokeWidth": 5, "clip": true},
              "encoding": {
                "x": {"field": "t", "type": "quantitative", "scale": {"domain": [-1.7, 40.16], "nice": false, "zero": false}, "axis": {"values": [0, 10, 20, 30, 40], "title": "time [s]"}},
                "y": {"field": "mnf", "type": "quantitative", "scale": {"domain": [111, 207], "nice": false, "zero": false}, "axis": {"values": [150, 200], "title": "MNF [Hz]"}},
                "color": {"field": "k", "type": "nominal", "scale": {"domain": ["angle", "act", "0.15", "0.225", "0.3"], "range": ["rgba(214,39,40,0.5)", "#9467bd", "#1f77b4", "#ff7f0e", "#2ca02c"]}}
              }
            },
            {
              "data": {"name": "angle"},
              "mark": {"type": "line", "strokeWidth": 6.5, "clip": true, "interpolate": "monotone"},
              "encoding": {
                "x": {"field": "t", "type": "quantitative", "axis": null},
                "y": {"field": "th", "type": "quantitative", "scale": {"domain": [-50.8, 37.8], "nice": false, "zero": false}, "axis": {"orient": "right", "values": [-50, 0], "title": "𝜃 [°]"}},
                "color": {"field": "k", "type": "nominal", "scale": {"domain": ["angle", "act", "0.15", "0.225", "0.3"], "range": ["rgba(214,39,40,0.5)", "#9467bd", "#1f77b4", "#ff7f0e", "#2ca02c"]}}
              }
            }
          ],
          "resolve": {"scale": {"y": "independent"}, "axis": {"x": "independent"}}
        }
      ]
    }
  ],
  "config": {
    "font": "DejaVu Sans",
    "view": {"stroke": "black", "strokeWidth": 6},
    "mark": {"invalid": "filter"},
    "line": {"strokeJoin": "round", "strokeCap": "butt"},
    "axis": {"domain": false, "grid": false, "tickColor": "black", "tickWidth": 5, "tickSize": 22, "labelFontSize": 40, "labelColor": "black", "labelPadding": 31, "titleFontSize": 56, "titleFontWeight": "normal", "titleColor": "black"},
    "axisBottom": {"labelPadding": 27, "titlePadding": 30},
    "axisLeft": {"titleX": -212, "titleY": 173.5, "titleAngle": 270, "titleBaseline": "bottom", "titleAlign": "center"},
    "axisRight": {"titleX": 172, "titleY": 173.5, "titleAngle": 270, "titleBaseline": "top", "titleAlign": "center"},
    "axisTop": {"titleX": 5, "titleY": -23, "titleAngle": 0, "titleAlign": "left", "titleBaseline": "alphabetic", "titleFontSize": 40},
    "title": {"fontSize": 64, "fontWeight": "normal", "anchor": "start", "frame": "group", "dx": -86, "baseline": "alphabetic", "color": "black"},
    "legend": {"labelFontSize": 44, "labelColor": "black", "labelLimit": 1000, "symbolSize": 4096, "symbolStrokeWidth": 9, "symbolOffset": 20, "labelOffset": 36, "padding": 6, "rowPadding": 6, "strokeColor": "#cccccc", "strokeWidth": 5, "cornerRadius": 10, "fillColor": "white"}
  }
}
